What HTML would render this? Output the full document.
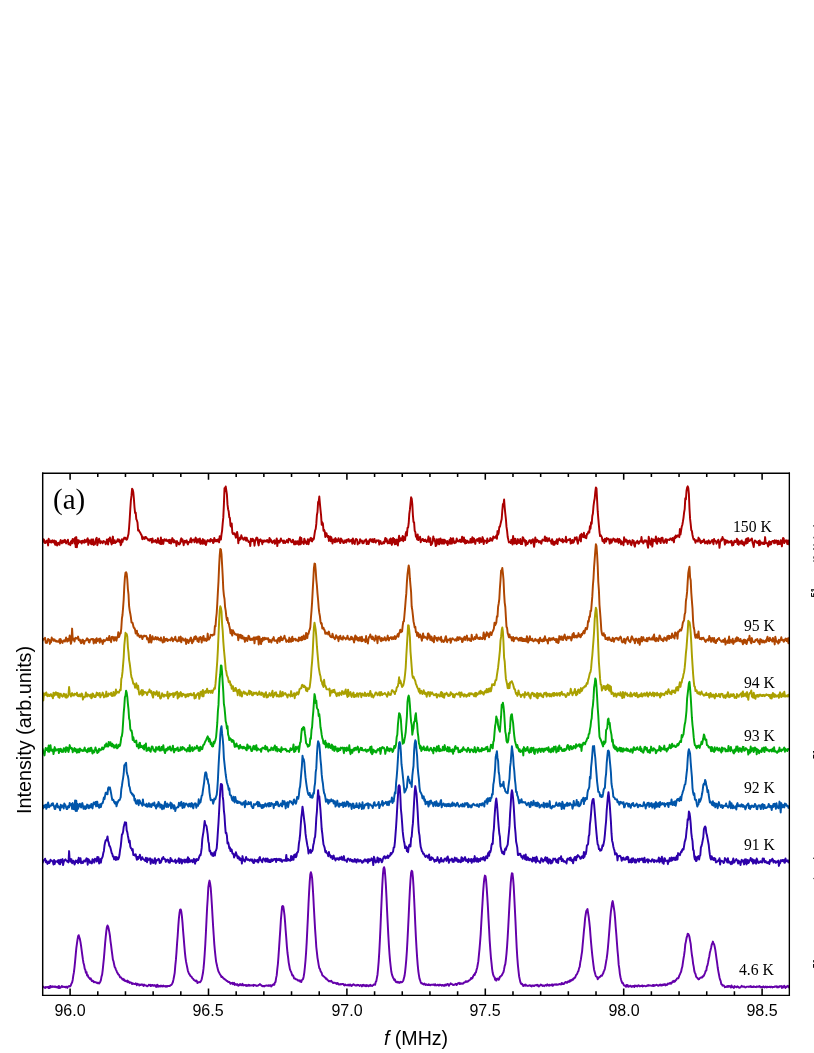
<!DOCTYPE html>
<html><head><meta charset="utf-8"><title>NMR spectra</title>
<style>
html,body{margin:0;padding:0;background:#fff;}
body{width:814px;height:1053px;position:relative;overflow:hidden;font-family:"Liberation Sans",sans-serif;color:#000;}
svg{position:absolute;left:0;top:0;will-change:transform;}
.xt{position:absolute;top:1002.1px;width:60px;text-align:center;font-size:16px;line-height:18px;will-change:transform;}
.tl{position:absolute;font-family:"Liberation Serif",serif;font-size:15.7px;line-height:18px;white-space:nowrap;will-change:transform;}
.pa{position:absolute;left:53.3px;top:483.4px;font-family:"Liberation Serif",serif;font-size:29px;line-height:32px;will-change:transform;}
.xl{position:absolute;left:316px;width:200px;text-align:center;top:1027px;font-size:19.6px;line-height:22px;will-change:transform;}
.yl{position:absolute;left:-76px;top:718.5px;width:200px;height:22px;text-align:center;font-size:19.8px;line-height:22px;will-change:transform;
 transform:rotate(-90deg);transform-origin:50% 50%;white-space:nowrap;}
</style></head><body>
<svg width="814" height="1053" viewBox="0 0 814 1053">
<defs><clipPath id="pc"><rect x="42.7" y="473.2" width="746.9" height="521.8"/></clipPath></defs>
<g clip-path="url(#pc)" fill="none" stroke-width="1.95" stroke-linejoin="round" stroke-linecap="round">
<path stroke="#aa0000" d="M42.7,541.8 L43.3,539.2 L43.9,539.5 L44.5,542.9 L45.1,542.4 L45.7,542.9 L46.3,540.8 L46.9,542.0 L47.5,540.4 L48.1,545.5 L48.7,538.8 L49.3,542.1 L49.9,540.5 L50.5,542.1 L51.1,542.6 L51.7,541.0 L52.3,540.3 L52.9,542.3 L53.5,542.2 L54.1,540.5 L54.7,543.6 L55.3,544.8 L55.9,541.1 L56.5,543.2 L57.1,545.6 L57.7,543.4 L58.3,542.8 L58.9,544.2 L59.5,544.8 L60.1,541.8 L60.7,540.1 L61.3,542.3 L61.9,543.3 L62.5,541.1 L63.1,540.5 L63.7,542.4 L64.3,540.8 L64.9,539.8 L65.5,542.3 L66.1,543.4 L66.7,541.2 L67.3,541.4 L67.9,539.7 L68.5,544.3 L69.1,543.1 L69.7,543.5 L70.3,545.2 L70.9,541.6 L71.5,540.8 L72.1,543.4 L72.7,538.9 L73.3,541.3 L73.9,539.3 L74.5,543.4 L75.1,537.8 L75.7,547.1 L76.3,537.1 L76.9,547.2 L77.5,540.2 L78.1,543.6 L78.7,540.3 L79.3,541.4 L79.9,542.3 L80.5,542.1 L81.1,541.1 L81.7,543.6 L82.3,540.7 L82.9,542.0 L83.5,540.9 L84.1,542.8 L84.7,539.7 L85.3,540.7 L85.9,542.2 L86.5,540.6 L87.1,539.4 L87.7,538.3 L88.3,544.9 L88.9,540.1 L89.5,540.9 L90.1,542.0 L90.7,543.8 L91.3,539.4 L91.9,544.3 L92.5,540.7 L93.1,539.3 L93.7,544.9 L94.3,542.4 L94.9,544.3 L95.5,541.3 L96.1,538.8 L96.7,537.9 L97.3,545.2 L97.9,542.9 L98.5,540.4 L99.1,538.7 L99.7,540.9 L100.3,543.2 L100.9,541.2 L101.5,541.8 L102.1,542.1 L102.7,543.2 L103.3,541.0 L103.9,541.1 L104.5,541.9 L105.1,542.1 L105.7,544.2 L106.3,542.6 L106.9,539.4 L107.5,542.1 L108.1,544.5 L108.7,539.1 L109.3,540.6 L109.9,537.5 L110.5,541.5 L111.1,542.5 L111.7,544.4 L112.3,539.0 L112.9,536.6 L113.5,543.1 L114.1,542.8 L114.7,540.3 L115.3,543.1 L115.9,542.0 L116.5,542.1 L117.1,541.0 L117.7,539.2 L118.3,541.2 L118.9,539.5 L119.5,542.0 L120.1,540.5 L120.7,545.2 L121.3,543.8 L121.9,539.3 L122.5,541.9 L123.1,539.5 L123.7,539.4 L124.3,537.6 L124.9,538.4 L125.5,537.7 L126.1,539.4 L126.7,539.8 L127.3,538.7 L127.9,536.2 L128.5,534.0 L129.1,527.5 L129.7,519.1 L130.3,509.0 L130.9,500.3 L131.5,495.4 L132.1,488.7 L132.7,489.7 L133.3,492.3 L133.9,498.9 L134.5,507.3 L135.1,513.0 L135.7,512.6 L136.3,519.1 L136.9,520.4 L137.5,522.5 L138.1,530.5 L138.7,529.9 L139.3,531.2 L139.9,532.2 L140.5,533.2 L141.1,534.6 L141.7,535.4 L142.3,539.2 L142.9,537.1 L143.5,538.7 L144.1,537.4 L144.7,538.9 L145.3,537.0 L145.9,536.9 L146.5,538.2 L147.1,538.4 L147.7,539.0 L148.3,540.2 L148.9,539.8 L149.5,540.6 L150.1,539.0 L150.7,539.9 L151.3,538.9 L151.9,542.7 L152.5,538.5 L153.1,541.8 L153.7,541.8 L154.3,540.8 L154.9,541.6 L155.5,540.0 L156.1,541.7 L156.7,542.8 L157.3,542.4 L157.9,538.2 L158.5,540.7 L159.1,543.1 L159.7,540.9 L160.3,544.0 L160.9,537.5 L161.5,544.0 L162.1,540.1 L162.7,540.0 L163.3,543.9 L163.9,540.5 L164.5,539.2 L165.1,540.3 L165.7,540.7 L166.3,539.4 L166.9,540.9 L167.5,540.6 L168.1,541.5 L168.7,540.1 L169.3,543.1 L169.9,539.8 L170.5,542.3 L171.1,543.5 L171.7,540.7 L172.3,538.1 L172.9,539.5 L173.5,542.4 L174.1,540.1 L174.7,542.3 L175.3,541.7 L175.9,541.3 L176.5,546.0 L177.1,541.1 L177.7,543.5 L178.3,542.8 L178.9,544.3 L179.5,544.4 L180.1,543.3 L180.7,539.9 L181.3,538.3 L181.9,541.6 L182.5,539.4 L183.1,542.0 L183.7,545.2 L184.3,541.2 L184.9,540.7 L185.5,542.4 L186.1,541.0 L186.7,540.4 L187.3,543.2 L187.9,544.4 L188.5,542.0 L189.1,542.0 L189.7,542.2 L190.3,539.6 L190.9,538.2 L191.5,542.4 L192.1,540.2 L192.7,539.7 L193.3,540.2 L193.9,539.5 L194.5,542.3 L195.1,540.1 L195.7,537.6 L196.3,540.0 L196.9,542.8 L197.5,540.4 L198.1,539.1 L198.7,540.8 L199.3,542.6 L199.9,538.5 L200.5,543.9 L201.1,540.5 L201.7,541.5 L202.3,543.8 L202.9,539.1 L203.5,540.8 L204.1,543.7 L204.7,540.3 L205.3,542.3 L205.9,545.1 L206.5,542.7 L207.1,540.9 L207.7,540.1 L208.3,541.0 L208.9,541.2 L209.5,540.4 L210.1,541.7 L210.7,538.9 L211.3,540.9 L211.9,540.6 L212.5,540.0 L213.1,543.1 L213.7,542.3 L214.3,537.9 L214.9,540.1 L215.5,541.2 L216.1,539.9 L216.7,541.3 L217.3,539.7 L217.9,541.3 L218.5,539.2 L219.1,542.4 L219.7,536.2 L220.3,538.9 L220.9,539.6 L221.5,534.4 L222.1,530.6 L222.7,523.3 L223.3,517.4 L223.9,504.4 L224.5,488.3 L225.1,491.0 L225.7,486.5 L226.3,490.4 L226.9,494.5 L227.5,504.4 L228.1,509.2 L228.7,511.6 L229.3,517.3 L229.9,518.0 L230.5,525.8 L231.1,526.7 L231.7,523.4 L232.3,532.3 L232.9,533.9 L233.5,533.3 L234.1,534.3 L234.7,533.4 L235.3,535.4 L235.9,537.7 L236.5,536.3 L237.1,532.0 L237.7,535.1 L238.3,543.3 L238.9,538.5 L239.5,540.1 L240.1,537.5 L240.7,539.2 L241.3,535.3 L241.9,537.5 L242.5,537.7 L243.1,539.2 L243.7,539.8 L244.3,539.2 L244.9,537.4 L245.5,539.0 L246.1,540.8 L246.7,537.7 L247.3,539.9 L247.9,540.5 L248.5,542.0 L249.1,541.6 L249.7,541.8 L250.3,546.0 L250.9,538.7 L251.5,539.6 L252.1,541.2 L252.7,538.8 L253.3,540.0 L253.9,540.2 L254.5,545.7 L255.1,541.4 L255.7,540.0 L256.3,537.9 L256.9,537.5 L257.5,538.3 L258.1,543.3 L258.7,545.4 L259.3,540.0 L259.9,541.1 L260.5,539.3 L261.1,541.4 L261.7,540.8 L262.3,544.2 L262.9,540.4 L263.5,542.1 L264.1,540.6 L264.7,540.4 L265.3,541.5 L265.9,540.7 L266.5,541.4 L267.1,539.9 L267.7,540.4 L268.3,542.4 L268.9,542.5 L269.5,538.0 L270.1,541.6 L270.7,539.5 L271.3,540.7 L271.9,542.5 L272.5,542.9 L273.1,541.2 L273.7,541.0 L274.3,540.3 L274.9,543.9 L275.5,542.6 L276.1,541.7 L276.7,538.4 L277.3,546.1 L277.9,540.6 L278.5,542.5 L279.1,540.7 L279.7,542.5 L280.3,540.8 L280.9,538.5 L281.5,540.8 L282.1,540.7 L282.7,540.8 L283.3,543.0 L283.9,540.5 L284.5,541.9 L285.1,543.1 L285.7,541.6 L286.3,542.0 L286.9,540.1 L287.5,541.6 L288.1,542.6 L288.7,538.7 L289.3,539.6 L289.9,539.1 L290.5,540.3 L291.1,541.7 L291.7,542.3 L292.3,542.1 L292.9,539.7 L293.5,541.3 L294.1,544.4 L294.7,541.6 L295.3,544.2 L295.9,541.2 L296.5,543.8 L297.1,543.9 L297.7,541.2 L298.3,541.6 L298.9,544.7 L299.5,540.0 L300.1,537.2 L300.7,544.3 L301.3,537.9 L301.9,542.7 L302.5,542.3 L303.1,541.7 L303.7,544.1 L304.3,538.7 L304.9,540.3 L305.5,542.7 L306.1,541.7 L306.7,544.0 L307.3,541.7 L307.9,539.2 L308.5,544.2 L309.1,541.6 L309.7,540.4 L310.3,538.5 L310.9,537.8 L311.5,541.1 L312.1,541.4 L312.7,538.7 L313.3,539.7 L313.9,538.7 L314.5,534.4 L315.1,530.5 L315.7,529.0 L316.3,523.9 L316.9,515.1 L317.5,512.0 L318.1,502.1 L318.7,501.6 L319.3,496.5 L319.9,503.6 L320.5,509.8 L321.1,515.6 L321.7,524.7 L322.3,522.3 L322.9,523.6 L323.5,530.7 L324.1,529.9 L324.7,531.4 L325.3,537.0 L325.9,533.2 L326.5,533.2 L327.1,536.0 L327.7,537.1 L328.3,535.9 L328.9,540.9 L329.5,538.0 L330.1,536.5 L330.7,541.2 L331.3,537.1 L331.9,540.0 L332.5,543.5 L333.1,539.8 L333.7,541.6 L334.3,539.2 L334.9,542.3 L335.5,538.1 L336.1,541.6 L336.7,539.6 L337.3,541.5 L337.9,541.1 L338.5,538.2 L339.1,540.2 L339.7,541.4 L340.3,543.1 L340.9,538.5 L341.5,539.4 L342.1,541.5 L342.7,540.4 L343.3,542.9 L343.9,542.9 L344.5,542.6 L345.1,540.3 L345.7,540.5 L346.3,542.5 L346.9,539.7 L347.5,539.6 L348.1,540.8 L348.7,539.1 L349.3,541.7 L349.9,541.4 L350.5,540.3 L351.1,541.3 L351.7,539.7 L352.3,543.7 L352.9,538.5 L353.5,542.8 L354.1,541.6 L354.7,544.0 L355.3,540.2 L355.9,538.9 L356.5,539.3 L357.1,539.7 L357.7,544.4 L358.3,542.9 L358.9,542.3 L359.5,543.2 L360.1,539.2 L360.7,541.0 L361.3,541.5 L361.9,540.5 L362.5,543.3 L363.1,543.2 L363.7,543.1 L364.3,540.5 L364.9,540.8 L365.5,540.3 L366.1,539.3 L366.7,544.1 L367.3,542.5 L367.9,541.2 L368.5,544.1 L369.1,542.5 L369.7,539.5 L370.3,539.3 L370.9,539.3 L371.5,541.4 L372.1,541.8 L372.7,539.3 L373.3,542.2 L373.9,540.8 L374.5,538.9 L375.1,542.1 L375.7,542.6 L376.3,541.4 L376.9,540.3 L377.5,540.5 L378.1,541.1 L378.7,540.3 L379.3,544.5 L379.9,543.0 L380.5,541.1 L381.1,543.2 L381.7,544.0 L382.3,543.7 L382.9,543.1 L383.5,541.7 L384.1,543.3 L384.7,540.8 L385.3,538.0 L385.9,541.6 L386.5,538.8 L387.1,540.7 L387.7,543.4 L388.3,541.7 L388.9,543.1 L389.5,539.6 L390.1,543.4 L390.7,538.5 L391.3,539.9 L391.9,544.9 L392.5,539.5 L393.1,537.9 L393.7,542.4 L394.3,538.9 L394.9,544.3 L395.5,540.2 L396.1,543.9 L396.7,539.6 L397.3,544.0 L397.9,545.5 L398.5,539.5 L399.1,535.8 L399.7,541.2 L400.3,538.3 L400.9,539.5 L401.5,540.2 L402.1,538.1 L402.7,535.9 L403.3,541.2 L403.9,537.3 L404.5,537.3 L405.1,540.1 L405.7,533.5 L406.3,531.7 L406.9,535.6 L407.5,527.9 L408.1,527.6 L408.7,523.2 L409.3,513.9 L409.9,509.7 L410.5,503.3 L411.1,497.3 L411.7,498.6 L412.3,504.1 L412.9,515.1 L413.5,522.0 L414.1,522.4 L414.7,530.8 L415.3,531.9 L415.9,536.5 L416.5,536.2 L417.1,539.4 L417.7,534.4 L418.3,540.1 L418.9,538.8 L419.5,539.3 L420.1,536.8 L420.7,542.2 L421.3,539.7 L421.9,540.2 L422.5,538.9 L423.1,539.2 L423.7,541.1 L424.3,539.9 L424.9,541.2 L425.5,539.6 L426.1,540.8 L426.7,542.0 L427.3,540.8 L427.9,540.1 L428.5,536.5 L429.1,541.9 L429.7,540.4 L430.3,538.2 L430.9,545.1 L431.5,544.4 L432.1,543.4 L432.7,541.3 L433.3,536.4 L433.9,540.4 L434.5,538.9 L435.1,541.7 L435.7,546.0 L436.3,545.7 L436.9,539.3 L437.5,540.9 L438.1,543.8 L438.7,539.2 L439.3,544.3 L439.9,539.1 L440.5,538.5 L441.1,542.8 L441.7,543.5 L442.3,539.7 L442.9,543.5 L443.5,539.7 L444.1,543.7 L444.7,539.8 L445.3,541.2 L445.9,542.3 L446.5,543.2 L447.1,541.0 L447.7,545.1 L448.3,542.0 L448.9,542.2 L449.5,540.1 L450.1,543.9 L450.7,538.1 L451.3,542.1 L451.9,543.7 L452.5,538.8 L453.1,538.2 L453.7,541.8 L454.3,543.2 L454.9,541.4 L455.5,542.8 L456.1,542.1 L456.7,538.4 L457.3,540.7 L457.9,541.2 L458.5,540.8 L459.1,541.5 L459.7,539.8 L460.3,539.7 L460.9,542.1 L461.5,541.2 L462.1,536.7 L462.7,540.6 L463.3,541.8 L463.9,537.4 L464.5,541.4 L465.1,543.5 L465.7,540.1 L466.3,543.1 L466.9,542.3 L467.5,540.7 L468.1,541.6 L468.7,542.8 L469.3,542.4 L469.9,542.5 L470.5,539.0 L471.1,542.7 L471.7,542.4 L472.3,537.3 L472.9,542.3 L473.5,538.3 L474.1,538.6 L474.7,541.5 L475.3,543.9 L475.9,540.2 L476.5,539.8 L477.1,539.2 L477.7,540.9 L478.3,538.7 L478.9,538.3 L479.5,543.0 L480.1,538.1 L480.7,540.5 L481.3,541.9 L481.9,541.4 L482.5,537.1 L483.1,538.8 L483.7,544.1 L484.3,540.4 L484.9,540.8 L485.5,540.8 L486.1,541.3 L486.7,543.1 L487.3,538.5 L487.9,541.9 L488.5,540.7 L489.1,541.0 L489.7,541.1 L490.3,538.1 L490.9,538.6 L491.5,540.4 L492.1,540.7 L492.7,539.6 L493.3,536.5 L493.9,537.8 L494.5,537.2 L495.1,537.8 L495.7,537.2 L496.3,535.6 L496.9,538.8 L497.5,531.1 L498.1,534.6 L498.7,532.7 L499.3,527.0 L499.9,526.8 L500.5,524.1 L501.1,521.5 L501.7,519.0 L502.3,510.7 L502.9,504.1 L503.5,504.8 L504.1,499.5 L504.7,507.6 L505.3,513.7 L505.9,519.0 L506.5,526.9 L507.1,530.8 L507.7,537.0 L508.3,539.6 L508.9,542.4 L509.5,541.8 L510.1,542.0 L510.7,543.0 L511.3,539.8 L511.9,541.9 L512.5,544.6 L513.1,536.0 L513.7,542.5 L514.3,543.4 L514.9,538.7 L515.5,538.9 L516.1,543.4 L516.7,544.1 L517.3,543.2 L517.9,539.1 L518.5,541.9 L519.1,542.9 L519.7,541.4 L520.3,539.0 L520.9,544.1 L521.5,542.2 L522.1,544.1 L522.7,537.2 L523.3,537.9 L523.9,539.6 L524.5,541.7 L525.1,540.2 L525.7,545.6 L526.3,541.0 L526.9,544.1 L527.5,544.1 L528.1,542.9 L528.7,542.2 L529.3,540.4 L529.9,540.2 L530.5,541.0 L531.1,543.4 L531.7,540.2 L532.3,541.8 L532.9,539.2 L533.5,543.3 L534.1,546.9 L534.7,542.5 L535.3,537.4 L535.9,540.6 L536.5,541.9 L537.1,539.8 L537.7,540.6 L538.3,540.6 L538.9,542.5 L539.5,541.4 L540.1,541.1 L540.7,542.8 L541.3,543.7 L541.9,541.2 L542.5,539.6 L543.1,540.2 L543.7,540.5 L544.3,540.5 L544.9,536.5 L545.5,541.0 L546.1,539.5 L546.7,537.7 L547.3,541.4 L547.9,540.9 L548.5,539.4 L549.1,538.2 L549.7,540.8 L550.3,540.7 L550.9,541.2 L551.5,543.7 L552.1,539.2 L552.7,541.9 L553.3,544.7 L553.9,541.6 L554.5,544.7 L555.1,543.3 L555.7,541.3 L556.3,543.1 L556.9,539.2 L557.5,544.1 L558.1,540.7 L558.7,540.2 L559.3,538.4 L559.9,539.4 L560.5,540.7 L561.1,541.0 L561.7,541.3 L562.3,538.9 L562.9,542.4 L563.5,540.1 L564.1,541.2 L564.7,540.6 L565.3,541.5 L565.9,536.8 L566.5,542.2 L567.1,540.4 L567.7,540.3 L568.3,539.6 L568.9,539.9 L569.5,539.9 L570.1,538.8 L570.7,543.6 L571.3,540.6 L571.9,542.9 L572.5,540.0 L573.1,542.7 L573.7,542.2 L574.3,540.4 L574.9,537.5 L575.5,539.0 L576.1,539.4 L576.7,537.2 L577.3,541.6 L577.9,543.7 L578.5,540.4 L579.1,539.9 L579.7,536.8 L580.3,534.9 L580.9,541.4 L581.5,533.8 L582.1,535.4 L582.7,536.5 L583.3,537.1 L583.9,532.8 L584.5,536.9 L585.1,537.6 L585.7,535.9 L586.3,538.2 L586.9,534.0 L587.5,534.3 L588.1,532.5 L588.7,531.3 L589.3,532.6 L589.9,526.3 L590.5,528.7 L591.1,522.3 L591.7,523.8 L592.3,516.0 L592.9,513.5 L593.5,506.2 L594.1,501.5 L594.7,498.5 L595.3,491.8 L595.9,487.4 L596.5,488.5 L597.1,500.0 L597.7,511.2 L598.3,518.6 L598.9,525.3 L599.5,532.0 L600.1,536.1 L600.7,535.1 L601.3,536.2 L601.9,537.4 L602.5,541.2 L603.1,539.6 L603.7,540.4 L604.3,543.0 L604.9,538.7 L605.5,540.4 L606.1,541.6 L606.7,538.0 L607.3,539.4 L607.9,539.3 L608.5,538.7 L609.1,539.7 L609.7,543.6 L610.3,541.9 L610.9,539.2 L611.5,542.7 L612.1,541.2 L612.7,540.5 L613.3,538.5 L613.9,538.8 L614.5,539.6 L615.1,541.7 L615.7,539.6 L616.3,540.4 L616.9,541.7 L617.5,538.8 L618.1,540.5 L618.7,542.9 L619.3,539.0 L619.9,542.0 L620.5,540.3 L621.1,544.4 L621.7,541.5 L622.3,543.3 L622.9,543.4 L623.5,545.2 L624.1,537.3 L624.7,541.8 L625.3,541.0 L625.9,539.4 L626.5,541.8 L627.1,540.5 L627.7,544.2 L628.3,541.1 L628.9,542.3 L629.5,540.5 L630.1,541.2 L630.7,544.2 L631.3,545.1 L631.9,543.5 L632.5,540.1 L633.1,540.7 L633.7,540.7 L634.3,545.4 L634.9,546.7 L635.5,542.7 L636.1,542.1 L636.7,542.7 L637.3,540.8 L637.9,541.8 L638.5,543.8 L639.1,543.2 L639.7,541.2 L640.3,541.3 L640.9,541.6 L641.5,537.0 L642.1,541.9 L642.7,541.2 L643.3,543.4 L643.9,542.1 L644.5,540.4 L645.1,540.3 L645.7,541.7 L646.3,540.6 L646.9,541.3 L647.5,545.0 L648.1,547.7 L648.7,536.8 L649.3,539.7 L649.9,541.4 L650.5,544.7 L651.1,543.7 L651.7,538.6 L652.3,546.6 L652.9,541.8 L653.5,539.5 L654.1,540.9 L654.7,539.7 L655.3,541.4 L655.9,536.4 L656.5,543.1 L657.1,543.7 L657.7,540.5 L658.3,538.2 L658.9,541.0 L659.5,538.9 L660.1,541.9 L660.7,543.1 L661.3,538.1 L661.9,537.7 L662.5,537.7 L663.1,541.5 L663.7,542.8 L664.3,542.8 L664.9,540.9 L665.5,539.2 L666.1,539.3 L666.7,543.0 L667.3,539.7 L667.9,540.0 L668.5,539.7 L669.1,539.8 L669.7,540.0 L670.3,538.4 L670.9,539.1 L671.5,538.7 L672.1,540.3 L672.7,538.0 L673.3,538.8 L673.9,542.4 L674.5,537.1 L675.1,538.2 L675.7,535.5 L676.3,537.3 L676.9,536.7 L677.5,535.5 L678.1,535.3 L678.7,535.5 L679.3,537.2 L679.9,529.1 L680.5,534.5 L681.1,530.6 L681.7,526.8 L682.3,525.0 L682.9,521.7 L683.5,517.8 L684.1,512.5 L684.7,509.2 L685.3,498.2 L685.9,499.4 L686.5,491.0 L687.1,487.6 L687.7,486.3 L688.3,488.0 L688.9,494.2 L689.5,508.9 L690.1,518.9 L690.7,524.1 L691.3,530.1 L691.9,531.0 L692.5,535.0 L693.1,537.8 L693.7,539.6 L694.3,539.1 L694.9,540.2 L695.5,542.8 L696.1,540.3 L696.7,540.8 L697.3,541.1 L697.9,541.6 L698.5,537.6 L699.1,539.6 L699.7,539.2 L700.3,542.3 L700.9,543.2 L701.5,541.8 L702.1,540.8 L702.7,542.0 L703.3,541.7 L703.9,539.5 L704.5,540.9 L705.1,543.4 L705.7,542.3 L706.3,542.8 L706.9,541.2 L707.5,543.8 L708.1,541.9 L708.7,540.3 L709.3,541.6 L709.9,543.4 L710.5,542.8 L711.1,541.4 L711.7,540.7 L712.3,540.0 L712.9,542.0 L713.5,544.2 L714.1,538.9 L714.7,541.1 L715.3,540.9 L715.9,541.1 L716.5,543.7 L717.1,542.4 L717.7,541.2 L718.3,539.7 L718.9,541.6 L719.5,547.8 L720.1,542.2 L720.7,541.1 L721.3,539.3 L721.9,540.4 L722.5,536.9 L723.1,539.0 L723.7,539.2 L724.3,540.0 L724.9,544.5 L725.5,540.1 L726.1,540.6 L726.7,542.8 L727.3,540.7 L727.9,541.0 L728.5,542.7 L729.1,542.0 L729.7,542.3 L730.3,541.4 L730.9,542.6 L731.5,540.8 L732.1,545.5 L732.7,542.4 L733.3,545.1 L733.9,542.8 L734.5,540.8 L735.1,541.8 L735.7,542.0 L736.3,541.7 L736.9,538.8 L737.5,544.0 L738.1,540.1 L738.7,544.8 L739.3,542.7 L739.9,541.5 L740.5,543.5 L741.1,541.4 L741.7,540.4 L742.3,544.2 L742.9,542.0 L743.5,542.6 L744.1,545.6 L744.7,542.2 L745.3,543.4 L745.9,539.2 L746.5,543.5 L747.1,538.5 L747.7,542.9 L748.3,538.1 L748.9,540.8 L749.5,541.0 L750.1,540.3 L750.7,540.1 L751.3,539.1 L751.9,538.5 L752.5,542.5 L753.1,544.3 L753.7,547.0 L754.3,542.6 L754.9,540.4 L755.5,541.1 L756.1,541.6 L756.7,542.5 L757.3,543.1 L757.9,542.4 L758.5,541.1 L759.1,545.3 L759.7,540.4 L760.3,544.7 L760.9,542.2 L761.5,543.1 L762.1,542.6 L762.7,543.9 L763.3,544.1 L763.9,542.3 L764.5,544.0 L765.1,537.1 L765.7,542.7 L766.3,543.1 L766.9,542.9 L767.5,544.0 L768.1,546.6 L768.7,542.4 L769.3,541.3 L769.9,544.8 L770.5,541.9 L771.1,544.2 L771.7,542.0 L772.3,541.2 L772.9,540.9 L773.5,541.0 L774.1,543.3 L774.7,540.2 L775.3,542.8 L775.9,541.2 L776.5,540.5 L777.1,542.5 L777.7,544.4 L778.3,540.7 L778.9,544.1 L779.5,543.6 L780.1,544.0 L780.7,540.3 L781.3,542.2 L781.9,546.3 L782.5,540.5 L783.1,537.9 L783.7,538.4 L784.3,543.0 L784.9,541.7 L785.5,540.9 L786.1,540.2 L786.7,541.8 L787.3,544.0 L787.9,540.4 L788.5,540.7 L789.1,544.5"/>
<path stroke="#af4600" d="M42.7,640.6 L43.3,638.8 L43.9,639.3 L44.5,639.4 L45.1,637.8 L45.7,642.7 L46.3,641.7 L46.9,642.9 L47.5,640.8 L48.1,638.9 L48.7,640.6 L49.3,639.7 L49.9,643.9 L50.5,640.4 L51.1,642.2 L51.7,637.5 L52.3,639.1 L52.9,638.9 L53.5,640.7 L54.1,639.5 L54.7,639.5 L55.3,641.2 L55.9,641.5 L56.5,640.8 L57.1,641.7 L57.7,641.6 L58.3,641.1 L58.9,641.9 L59.5,639.3 L60.1,643.4 L60.7,639.1 L61.3,641.7 L61.9,641.5 L62.5,642.9 L63.1,640.8 L63.7,641.0 L64.3,640.2 L64.9,641.5 L65.5,640.4 L66.1,637.4 L66.7,639.9 L67.3,641.6 L67.9,638.9 L68.5,640.8 L69.1,639.5 L69.7,635.5 L70.3,640.2 L70.9,643.9 L71.5,641.2 L72.1,628.6 L72.7,638.5 L73.3,639.8 L73.9,638.8 L74.5,641.5 L75.1,638.4 L75.7,637.7 L76.3,638.6 L76.9,638.5 L77.5,638.6 L78.1,636.6 L78.7,640.2 L79.3,640.5 L79.9,639.5 L80.5,642.1 L81.1,643.2 L81.7,642.0 L82.3,639.8 L82.9,639.7 L83.5,643.2 L84.1,643.8 L84.7,641.0 L85.3,640.8 L85.9,640.6 L86.5,639.3 L87.1,638.3 L87.7,640.0 L88.3,639.4 L88.9,642.4 L89.5,642.5 L90.1,640.0 L90.7,639.3 L91.3,639.1 L91.9,639.4 L92.5,639.0 L93.1,639.0 L93.7,643.4 L94.3,641.6 L94.9,639.6 L95.5,639.3 L96.1,643.0 L96.7,638.3 L97.3,641.1 L97.9,640.7 L98.5,639.8 L99.1,638.9 L99.7,642.7 L100.3,638.5 L100.9,640.1 L101.5,641.5 L102.1,640.6 L102.7,644.0 L103.3,641.2 L103.9,639.8 L104.5,641.3 L105.1,640.6 L105.7,640.2 L106.3,639.9 L106.9,638.1 L107.5,639.9 L108.1,640.3 L108.7,638.8 L109.3,636.0 L109.9,640.2 L110.5,638.6 L111.1,642.2 L111.7,637.0 L112.3,638.1 L112.9,636.8 L113.5,639.1 L114.1,640.7 L114.7,637.2 L115.3,637.2 L115.9,639.8 L116.5,640.6 L117.1,636.9 L117.7,637.6 L118.3,632.2 L118.9,637.1 L119.5,635.8 L120.1,633.3 L120.7,633.4 L121.3,628.3 L121.9,618.7 L122.5,615.0 L123.1,607.5 L123.7,599.3 L124.3,586.4 L124.9,577.7 L125.5,572.7 L126.1,572.2 L126.7,573.8 L127.3,579.7 L127.9,589.1 L128.5,594.5 L129.1,606.2 L129.7,610.6 L130.3,613.7 L130.9,617.3 L131.5,622.4 L132.1,622.4 L132.7,623.2 L133.3,626.1 L133.9,627.9 L134.5,628.1 L135.1,629.9 L135.7,633.5 L136.3,632.7 L136.9,630.8 L137.5,635.6 L138.1,634.0 L138.7,635.3 L139.3,636.6 L139.9,637.2 L140.5,635.6 L141.1,635.5 L141.7,635.8 L142.3,639.1 L142.9,637.3 L143.5,636.4 L144.1,635.6 L144.7,636.2 L145.3,636.1 L145.9,635.8 L146.5,636.4 L147.1,639.4 L147.7,638.0 L148.3,639.5 L148.9,642.5 L149.5,641.4 L150.1,634.9 L150.7,640.6 L151.3,642.6 L151.9,639.8 L152.5,636.2 L153.1,639.0 L153.7,638.3 L154.3,639.5 L154.9,639.2 L155.5,636.9 L156.1,637.8 L156.7,639.4 L157.3,637.7 L157.9,637.4 L158.5,639.7 L159.1,638.9 L159.7,639.0 L160.3,640.6 L160.9,637.5 L161.5,639.8 L162.1,640.6 L162.7,642.5 L163.3,641.8 L163.9,637.0 L164.5,641.7 L165.1,638.9 L165.7,640.3 L166.3,638.8 L166.9,638.7 L167.5,641.1 L168.1,640.3 L168.7,639.6 L169.3,639.6 L169.9,639.9 L170.5,640.4 L171.1,638.7 L171.7,637.6 L172.3,638.9 L172.9,641.2 L173.5,639.2 L174.1,639.8 L174.7,639.1 L175.3,636.7 L175.9,640.3 L176.5,640.0 L177.1,641.5 L177.7,640.4 L178.3,640.9 L178.9,637.2 L179.5,639.4 L180.1,641.0 L180.7,636.6 L181.3,642.3 L181.9,638.5 L182.5,638.2 L183.1,639.0 L183.7,640.4 L184.3,640.2 L184.9,640.6 L185.5,638.6 L186.1,644.0 L186.7,640.8 L187.3,639.7 L187.9,641.0 L188.5,643.1 L189.1,640.3 L189.7,641.2 L190.3,638.5 L190.9,637.5 L191.5,639.8 L192.1,643.3 L192.7,640.2 L193.3,641.5 L193.9,638.6 L194.5,636.8 L195.1,639.2 L195.7,636.2 L196.3,637.1 L196.9,638.5 L197.5,641.2 L198.1,639.3 L198.7,642.0 L199.3,637.6 L199.9,639.1 L200.5,636.9 L201.1,638.7 L201.7,642.6 L202.3,638.0 L202.9,637.4 L203.5,636.0 L204.1,640.6 L204.7,640.4 L205.3,638.6 L205.9,640.4 L206.5,640.9 L207.1,640.2 L207.7,633.6 L208.3,639.1 L208.9,639.6 L209.5,638.4 L210.1,637.4 L210.7,634.8 L211.3,635.0 L211.9,634.9 L212.5,635.6 L213.1,634.6 L213.7,634.8 L214.3,634.6 L214.9,625.9 L215.5,626.4 L216.1,618.3 L216.7,613.1 L217.3,603.1 L217.9,591.7 L218.5,581.2 L219.1,566.6 L219.7,555.6 L220.3,548.9 L220.9,549.4 L221.5,554.1 L222.1,564.7 L222.7,575.7 L223.3,589.1 L223.9,595.3 L224.5,598.8 L225.1,607.2 L225.7,610.7 L226.3,616.3 L226.9,620.2 L227.5,618.0 L228.1,623.0 L228.7,622.8 L229.3,626.0 L229.9,628.7 L230.5,633.2 L231.1,630.0 L231.7,633.8 L232.3,635.6 L232.9,630.2 L233.5,631.7 L234.1,632.4 L234.7,633.9 L235.3,634.4 L235.9,634.0 L236.5,634.8 L237.1,635.3 L237.7,634.4 L238.3,640.2 L238.9,634.6 L239.5,637.5 L240.1,635.1 L240.7,634.7 L241.3,638.4 L241.9,635.7 L242.5,635.9 L243.1,638.7 L243.7,638.5 L244.3,637.5 L244.9,641.8 L245.5,638.8 L246.1,637.8 L246.7,639.0 L247.3,641.1 L247.9,639.0 L248.5,635.8 L249.1,636.2 L249.7,638.8 L250.3,640.1 L250.9,638.8 L251.5,638.8 L252.1,640.0 L252.7,639.5 L253.3,637.9 L253.9,637.4 L254.5,643.3 L255.1,637.4 L255.7,638.9 L256.3,637.2 L256.9,639.2 L257.5,638.5 L258.1,636.4 L258.7,644.5 L259.3,636.6 L259.9,639.0 L260.5,642.6 L261.1,644.1 L261.7,638.9 L262.3,641.3 L262.9,637.7 L263.5,639.1 L264.1,639.8 L264.7,637.8 L265.3,639.2 L265.9,638.3 L266.5,638.2 L267.1,639.1 L267.7,638.3 L268.3,638.3 L268.9,642.1 L269.5,640.2 L270.1,639.9 L270.7,640.4 L271.3,642.5 L271.9,640.7 L272.5,639.1 L273.1,639.4 L273.7,637.1 L274.3,640.8 L274.9,640.5 L275.5,640.8 L276.1,640.3 L276.7,640.8 L277.3,643.1 L277.9,639.2 L278.5,638.1 L279.1,637.8 L279.7,641.7 L280.3,640.1 L280.9,636.6 L281.5,640.0 L282.1,639.2 L282.7,640.1 L283.3,638.0 L283.9,638.1 L284.5,635.7 L285.1,638.9 L285.7,639.0 L286.3,641.9 L286.9,640.5 L287.5,641.0 L288.1,640.3 L288.7,642.0 L289.3,637.6 L289.9,641.5 L290.5,639.2 L291.1,641.8 L291.7,639.0 L292.3,636.7 L292.9,641.0 L293.5,638.9 L294.1,639.6 L294.7,639.0 L295.3,638.7 L295.9,640.5 L296.5,639.6 L297.1,640.3 L297.7,640.7 L298.3,641.3 L298.9,637.4 L299.5,640.3 L300.1,637.7 L300.7,637.8 L301.3,640.4 L301.9,636.7 L302.5,639.9 L303.1,637.2 L303.7,635.5 L304.3,639.1 L304.9,639.2 L305.5,638.9 L306.1,632.9 L306.7,637.1 L307.3,638.0 L307.9,633.4 L308.5,633.7 L309.1,631.2 L309.7,629.7 L310.3,627.2 L310.9,618.3 L311.5,610.8 L312.1,602.1 L312.7,590.6 L313.3,580.0 L313.9,568.3 L314.5,563.6 L315.1,563.9 L315.7,570.4 L316.3,579.5 L316.9,585.5 L317.5,593.6 L318.1,600.0 L318.7,607.8 L319.3,612.9 L319.9,616.1 L320.5,621.4 L321.1,623.8 L321.7,623.4 L322.3,628.5 L322.9,627.9 L323.5,627.7 L324.1,629.7 L324.7,630.3 L325.3,633.8 L325.9,632.7 L326.5,633.6 L327.1,632.6 L327.7,633.4 L328.3,634.5 L328.9,631.6 L329.5,634.3 L330.1,636.1 L330.7,636.9 L331.3,636.2 L331.9,637.3 L332.5,633.7 L333.1,635.8 L333.7,637.5 L334.3,638.2 L334.9,639.1 L335.5,637.9 L336.1,635.2 L336.7,636.2 L337.3,637.9 L337.9,637.6 L338.5,641.2 L339.1,636.7 L339.7,638.5 L340.3,635.8 L340.9,638.6 L341.5,639.2 L342.1,638.1 L342.7,639.6 L343.3,636.2 L343.9,638.1 L344.5,638.0 L345.1,638.1 L345.7,639.4 L346.3,638.0 L346.9,638.5 L347.5,635.8 L348.1,638.8 L348.7,638.3 L349.3,639.8 L349.9,639.6 L350.5,639.5 L351.1,636.8 L351.7,638.9 L352.3,637.4 L352.9,639.5 L353.5,639.7 L354.1,642.5 L354.7,637.7 L355.3,635.5 L355.9,639.5 L356.5,636.6 L357.1,637.7 L357.7,640.4 L358.3,637.9 L358.9,640.8 L359.5,639.7 L360.1,637.1 L360.7,638.9 L361.3,641.3 L361.9,636.8 L362.5,641.1 L363.1,639.5 L363.7,639.8 L364.3,639.5 L364.9,640.7 L365.5,642.1 L366.1,636.0 L366.7,640.9 L367.3,640.8 L367.9,643.5 L368.5,639.1 L369.1,637.0 L369.7,636.8 L370.3,634.4 L370.9,636.6 L371.5,638.5 L372.1,639.1 L372.7,636.6 L373.3,639.2 L373.9,638.8 L374.5,640.8 L375.1,638.9 L375.7,635.6 L376.3,639.1 L376.9,638.3 L377.5,643.2 L378.1,636.6 L378.7,638.3 L379.3,636.4 L379.9,638.4 L380.5,640.3 L381.1,641.2 L381.7,637.9 L382.3,638.8 L382.9,640.4 L383.5,638.8 L384.1,639.7 L384.7,637.3 L385.3,639.2 L385.9,640.6 L386.5,638.5 L387.1,639.3 L387.7,635.6 L388.3,639.0 L388.9,640.4 L389.5,638.1 L390.1,638.3 L390.7,637.3 L391.3,637.2 L391.9,639.3 L392.5,637.4 L393.1,637.3 L393.7,639.0 L394.3,637.7 L394.9,636.1 L395.5,639.0 L396.1,637.8 L396.7,636.4 L397.3,635.4 L397.9,633.9 L398.5,636.7 L399.1,633.3 L399.7,632.1 L400.3,629.7 L400.9,632.2 L401.5,631.8 L402.1,631.4 L402.7,625.6 L403.3,621.6 L403.9,621.3 L404.5,614.5 L405.1,607.6 L405.7,599.9 L406.3,593.4 L406.9,582.1 L407.5,574.3 L408.1,569.5 L408.7,565.5 L409.3,568.9 L409.9,578.7 L410.5,585.5 L411.1,592.2 L411.7,606.7 L412.3,610.0 L412.9,615.3 L413.5,621.2 L414.1,624.1 L414.7,627.6 L415.3,626.7 L415.9,632.1 L416.5,631.9 L417.1,635.9 L417.7,632.7 L418.3,633.2 L418.9,637.4 L419.5,636.4 L420.1,634.5 L420.7,636.5 L421.3,638.1 L421.9,640.7 L422.5,636.0 L423.1,633.4 L423.7,637.8 L424.3,636.5 L424.9,636.7 L425.5,637.7 L426.1,637.5 L426.7,637.7 L427.3,639.5 L427.9,633.7 L428.5,633.4 L429.1,637.8 L429.7,635.3 L430.3,639.9 L430.9,638.9 L431.5,636.6 L432.1,640.7 L432.7,641.0 L433.3,638.2 L433.9,642.3 L434.5,635.9 L435.1,637.6 L435.7,638.6 L436.3,637.8 L436.9,640.6 L437.5,640.7 L438.1,637.7 L438.7,637.5 L439.3,638.9 L439.9,639.3 L440.5,640.1 L441.1,636.8 L441.7,641.8 L442.3,640.8 L442.9,640.2 L443.5,642.0 L444.1,641.6 L444.7,641.1 L445.3,637.6 L445.9,636.2 L446.5,638.8 L447.1,642.2 L447.7,640.4 L448.3,639.6 L448.9,639.9 L449.5,640.1 L450.1,638.5 L450.7,642.8 L451.3,640.4 L451.9,639.0 L452.5,638.2 L453.1,638.9 L453.7,639.4 L454.3,639.6 L454.9,640.6 L455.5,639.2 L456.1,639.7 L456.7,640.6 L457.3,637.2 L457.9,637.3 L458.5,640.0 L459.1,638.2 L459.7,637.2 L460.3,638.8 L460.9,639.0 L461.5,638.4 L462.1,642.1 L462.7,641.7 L463.3,638.3 L463.9,638.7 L464.5,636.8 L465.1,640.0 L465.7,637.2 L466.3,637.2 L466.9,635.6 L467.5,640.4 L468.1,639.6 L468.7,638.5 L469.3,638.4 L469.9,640.6 L470.5,639.8 L471.1,641.1 L471.7,634.7 L472.3,638.8 L472.9,638.7 L473.5,639.7 L474.1,638.5 L474.7,637.1 L475.3,639.0 L475.9,638.4 L476.5,634.5 L477.1,636.6 L477.7,637.7 L478.3,638.8 L478.9,638.0 L479.5,639.1 L480.1,637.2 L480.7,638.8 L481.3,638.7 L481.9,638.0 L482.5,639.1 L483.1,636.7 L483.7,632.5 L484.3,637.8 L484.9,639.4 L485.5,634.6 L486.1,636.2 L486.7,632.3 L487.3,634.8 L487.9,633.5 L488.5,636.2 L489.1,637.2 L489.7,634.3 L490.3,632.3 L490.9,634.4 L491.5,635.0 L492.1,632.5 L492.7,631.4 L493.3,630.2 L493.9,628.5 L494.5,622.8 L495.1,625.3 L495.7,624.1 L496.3,622.7 L496.9,616.3 L497.5,616.7 L498.1,606.8 L498.7,603.5 L499.3,599.2 L499.9,588.2 L500.5,580.4 L501.1,570.6 L501.7,570.9 L502.3,567.9 L502.9,573.0 L503.5,579.6 L504.1,593.1 L504.7,602.6 L505.3,607.0 L505.9,617.2 L506.5,626.8 L507.1,628.0 L507.7,633.1 L508.3,635.0 L508.9,637.3 L509.5,634.4 L510.1,637.6 L510.7,636.8 L511.3,637.4 L511.9,640.5 L512.5,639.4 L513.1,636.9 L513.7,641.2 L514.3,638.2 L514.9,638.9 L515.5,637.8 L516.1,637.8 L516.7,637.6 L517.3,639.1 L517.9,638.8 L518.5,640.5 L519.1,640.3 L519.7,637.9 L520.3,640.5 L520.9,637.7 L521.5,637.8 L522.1,641.0 L522.7,638.6 L523.3,641.1 L523.9,639.1 L524.5,641.1 L525.1,639.1 L525.7,639.4 L526.3,641.6 L526.9,636.2 L527.5,638.1 L528.1,642.6 L528.7,639.2 L529.3,640.6 L529.9,636.2 L530.5,639.9 L531.1,639.1 L531.7,640.2 L532.3,638.7 L532.9,640.8 L533.5,641.4 L534.1,640.7 L534.7,640.6 L535.3,638.8 L535.9,639.7 L536.5,640.6 L537.1,640.5 L537.7,641.4 L538.3,639.6 L538.9,643.4 L539.5,640.2 L540.1,637.7 L540.7,640.4 L541.3,640.9 L541.9,639.7 L542.5,641.4 L543.1,641.1 L543.7,638.6 L544.3,640.9 L544.9,636.3 L545.5,638.8 L546.1,639.9 L546.7,640.8 L547.3,640.1 L547.9,643.6 L548.5,639.2 L549.1,638.1 L549.7,638.6 L550.3,640.4 L550.9,638.5 L551.5,638.5 L552.1,639.8 L552.7,638.9 L553.3,637.7 L553.9,638.7 L554.5,640.1 L555.1,639.4 L555.7,639.1 L556.3,642.2 L556.9,639.1 L557.5,639.5 L558.1,643.1 L558.7,642.2 L559.3,636.1 L559.9,639.0 L560.5,636.8 L561.1,639.7 L561.7,636.4 L562.3,638.0 L562.9,640.1 L563.5,638.4 L564.1,636.1 L564.7,634.6 L565.3,637.8 L565.9,639.4 L566.5,640.1 L567.1,637.3 L567.7,636.5 L568.3,638.1 L568.9,638.4 L569.5,636.7 L570.1,637.2 L570.7,637.2 L571.3,640.5 L571.9,638.3 L572.5,634.3 L573.1,637.4 L573.7,633.0 L574.3,636.4 L574.9,637.4 L575.5,636.3 L576.1,635.5 L576.7,637.6 L577.3,635.7 L577.9,636.6 L578.5,633.1 L579.1,636.1 L579.7,634.8 L580.3,637.3 L580.9,636.7 L581.5,634.0 L582.1,635.0 L582.7,633.4 L583.3,631.9 L583.9,630.7 L584.5,633.4 L585.1,630.5 L585.7,628.0 L586.3,629.3 L586.9,629.2 L587.5,626.6 L588.1,620.9 L588.7,621.7 L589.3,616.6 L589.9,616.9 L590.5,610.8 L591.1,611.0 L591.7,603.6 L592.3,596.4 L592.9,585.5 L593.5,578.3 L594.1,566.8 L594.7,559.1 L595.3,550.9 L595.9,544.2 L596.5,546.0 L597.1,554.2 L597.7,565.9 L598.3,582.0 L598.9,590.1 L599.5,605.0 L600.1,612.3 L600.7,620.3 L601.3,629.8 L601.9,633.6 L602.5,635.3 L603.1,634.2 L603.7,633.2 L604.3,636.3 L604.9,635.0 L605.5,639.0 L606.1,638.3 L606.7,639.1 L607.3,637.7 L607.9,640.0 L608.5,638.4 L609.1,637.3 L609.7,639.3 L610.3,640.2 L610.9,639.6 L611.5,641.0 L612.1,640.8 L612.7,637.7 L613.3,638.6 L613.9,641.8 L614.5,639.8 L615.1,638.6 L615.7,638.0 L616.3,638.3 L616.9,637.8 L617.5,639.6 L618.1,639.6 L618.7,640.1 L619.3,637.7 L619.9,638.2 L620.5,636.6 L621.1,637.8 L621.7,641.2 L622.3,642.4 L622.9,642.2 L623.5,641.4 L624.1,638.7 L624.7,642.3 L625.3,643.4 L625.9,640.2 L626.5,638.5 L627.1,638.5 L627.7,637.0 L628.3,640.0 L628.9,640.9 L629.5,640.5 L630.1,642.3 L630.7,641.1 L631.3,637.7 L631.9,636.3 L632.5,637.7 L633.1,639.5 L633.7,640.4 L634.3,639.5 L634.9,643.3 L635.5,639.0 L636.1,638.6 L636.7,640.2 L637.3,639.9 L637.9,642.9 L638.5,638.6 L639.1,638.6 L639.7,644.8 L640.3,641.0 L640.9,639.3 L641.5,637.0 L642.1,641.4 L642.7,640.0 L643.3,637.3 L643.9,639.1 L644.5,640.3 L645.1,640.6 L645.7,639.8 L646.3,641.2 L646.9,638.0 L647.5,641.3 L648.1,638.8 L648.7,638.1 L649.3,637.6 L649.9,639.5 L650.5,639.6 L651.1,639.0 L651.7,639.4 L652.3,637.6 L652.9,639.6 L653.5,636.0 L654.1,634.5 L654.7,640.5 L655.3,638.6 L655.9,641.3 L656.5,637.9 L657.1,638.5 L657.7,639.6 L658.3,641.0 L658.9,639.0 L659.5,635.5 L660.1,636.2 L660.7,638.3 L661.3,640.0 L661.9,638.9 L662.5,640.2 L663.1,641.1 L663.7,640.3 L664.3,637.5 L664.9,638.0 L665.5,638.1 L666.1,640.3 L666.7,640.7 L667.3,636.3 L667.9,638.6 L668.5,635.8 L669.1,639.1 L669.7,635.9 L670.3,637.0 L670.9,638.0 L671.5,637.8 L672.1,633.5 L672.7,635.0 L673.3,636.9 L673.9,635.9 L674.5,638.6 L675.1,632.5 L675.7,632.7 L676.3,635.5 L676.9,633.5 L677.5,638.7 L678.1,631.6 L678.7,631.8 L679.3,631.4 L679.9,629.6 L680.5,629.5 L681.1,630.6 L681.7,628.8 L682.3,626.2 L682.9,622.3 L683.5,621.5 L684.1,619.7 L684.7,614.2 L685.3,612.5 L685.9,601.0 L686.5,597.4 L687.1,591.9 L687.7,581.6 L688.3,572.8 L688.9,569.4 L689.5,566.8 L690.1,577.5 L690.7,580.2 L691.3,592.7 L691.9,600.9 L692.5,608.4 L693.1,621.1 L693.7,627.3 L694.3,629.8 L694.9,635.1 L695.5,637.7 L696.1,635.4 L696.7,634.4 L697.3,637.9 L697.9,636.6 L698.5,631.4 L699.1,637.5 L699.7,638.9 L700.3,638.9 L700.9,638.0 L701.5,639.4 L702.1,637.8 L702.7,638.8 L703.3,637.7 L703.9,639.1 L704.5,639.6 L705.1,641.2 L705.7,642.0 L706.3,640.2 L706.9,640.4 L707.5,639.3 L708.1,640.0 L708.7,640.6 L709.3,635.9 L709.9,639.4 L710.5,637.9 L711.1,641.8 L711.7,638.3 L712.3,638.0 L712.9,639.3 L713.5,641.7 L714.1,637.9 L714.7,641.4 L715.3,642.9 L715.9,643.1 L716.5,640.1 L717.1,641.1 L717.7,638.9 L718.3,639.1 L718.9,637.9 L719.5,639.7 L720.1,640.1 L720.7,640.3 L721.3,641.7 L721.9,641.8 L722.5,641.6 L723.1,640.0 L723.7,641.9 L724.3,640.6 L724.9,638.5 L725.5,644.6 L726.1,642.0 L726.7,642.2 L727.3,640.5 L727.9,643.1 L728.5,641.7 L729.1,636.5 L729.7,642.9 L730.3,640.7 L730.9,640.1 L731.5,641.0 L732.1,642.6 L732.7,638.8 L733.3,643.9 L733.9,642.3 L734.5,641.0 L735.1,641.7 L735.7,638.5 L736.3,641.2 L736.9,637.3 L737.5,640.7 L738.1,637.9 L738.7,639.9 L739.3,641.1 L739.9,641.2 L740.5,638.9 L741.1,641.6 L741.7,640.8 L742.3,642.1 L742.9,644.3 L743.5,639.8 L744.1,639.6 L744.7,642.8 L745.3,639.9 L745.9,641.2 L746.5,644.1 L747.1,642.4 L747.7,639.6 L748.3,638.9 L748.9,640.0 L749.5,635.8 L750.1,640.1 L750.7,642.0 L751.3,643.3 L751.9,638.1 L752.5,641.5 L753.1,641.4 L753.7,642.1 L754.3,642.1 L754.9,641.3 L755.5,639.9 L756.1,639.7 L756.7,640.1 L757.3,639.0 L757.9,641.5 L758.5,642.5 L759.1,640.7 L759.7,644.3 L760.3,639.1 L760.9,639.7 L761.5,639.7 L762.1,642.5 L762.7,641.5 L763.3,640.6 L763.9,642.4 L764.5,642.6 L765.1,641.0 L765.7,640.4 L766.3,641.8 L766.9,638.8 L767.5,636.7 L768.1,639.6 L768.7,641.0 L769.3,641.2 L769.9,637.8 L770.5,640.1 L771.1,639.6 L771.7,640.2 L772.3,641.6 L772.9,638.0 L773.5,641.1 L774.1,640.4 L774.7,644.4 L775.3,636.8 L775.9,639.3 L776.5,640.8 L777.1,642.0 L777.7,641.7 L778.3,643.6 L778.9,639.8 L779.5,642.2 L780.1,639.9 L780.7,639.9 L781.3,637.3 L781.9,640.3 L782.5,640.1 L783.1,639.8 L783.7,641.7 L784.3,641.1 L784.9,640.1 L785.5,638.6 L786.1,639.3 L786.7,641.1 L787.3,638.5 L787.9,641.3 L788.5,643.3 L789.1,637.8"/>
<path stroke="#aaa000" d="M42.7,692.5 L43.3,700.4 L43.9,693.9 L44.5,695.3 L45.1,693.3 L45.7,694.8 L46.3,692.5 L46.9,695.4 L47.5,696.3 L48.1,694.5 L48.7,694.7 L49.3,696.0 L49.9,695.8 L50.5,694.3 L51.1,694.3 L51.7,696.2 L52.3,696.0 L52.9,698.3 L53.5,692.7 L54.1,695.8 L54.7,693.3 L55.3,694.8 L55.9,692.3 L56.5,693.0 L57.1,694.9 L57.7,693.0 L58.3,696.9 L58.9,693.4 L59.5,697.8 L60.1,694.9 L60.7,693.7 L61.3,695.1 L61.9,696.0 L62.5,696.7 L63.1,696.0 L63.7,693.7 L64.3,694.0 L64.9,695.8 L65.5,697.4 L66.1,694.3 L66.7,697.7 L67.3,696.2 L67.9,696.6 L68.5,694.2 L69.1,687.0 L69.7,692.7 L70.3,695.0 L70.9,696.5 L71.5,694.5 L72.1,693.1 L72.7,695.4 L73.3,694.4 L73.9,695.6 L74.5,693.7 L75.1,694.3 L75.7,694.0 L76.3,694.8 L76.9,692.7 L77.5,695.9 L78.1,695.9 L78.7,696.3 L79.3,694.4 L79.9,696.3 L80.5,696.4 L81.1,694.2 L81.7,693.5 L82.3,694.4 L82.9,699.6 L83.5,696.9 L84.1,697.0 L84.7,697.3 L85.3,696.0 L85.9,692.4 L86.5,695.8 L87.1,696.5 L87.7,694.2 L88.3,695.2 L88.9,695.1 L89.5,696.4 L90.1,695.3 L90.7,694.6 L91.3,698.3 L91.9,697.8 L92.5,693.5 L93.1,693.9 L93.7,696.1 L94.3,696.9 L94.9,695.5 L95.5,697.1 L96.1,695.7 L96.7,692.6 L97.3,695.0 L97.9,693.3 L98.5,695.5 L99.1,694.6 L99.7,692.9 L100.3,697.3 L100.9,695.7 L101.5,695.3 L102.1,694.6 L102.7,692.6 L103.3,693.9 L103.9,697.4 L104.5,695.4 L105.1,696.4 L105.7,696.4 L106.3,691.6 L106.9,696.6 L107.5,694.4 L108.1,695.9 L108.7,693.4 L109.3,694.1 L109.9,694.4 L110.5,694.7 L111.1,692.7 L111.7,695.9 L112.3,695.5 L112.9,696.0 L113.5,692.0 L114.1,694.5 L114.7,695.5 L115.3,694.4 L115.9,689.5 L116.5,693.5 L117.1,691.7 L117.7,691.9 L118.3,692.2 L118.9,692.6 L119.5,691.0 L120.1,689.5 L120.7,690.1 L121.3,679.0 L121.9,676.9 L122.5,671.9 L123.1,664.7 L123.7,657.0 L124.3,645.3 L124.9,639.3 L125.5,632.8 L126.1,634.4 L126.7,634.0 L127.3,636.7 L127.9,647.1 L128.5,652.3 L129.1,659.8 L129.7,663.5 L130.3,668.1 L130.9,673.4 L131.5,677.4 L132.1,678.5 L132.7,681.0 L133.3,683.7 L133.9,683.4 L134.5,684.6 L135.1,687.7 L135.7,687.4 L136.3,683.3 L136.9,687.3 L137.5,689.0 L138.1,685.6 L138.7,690.8 L139.3,694.5 L139.9,693.9 L140.5,693.6 L141.1,691.0 L141.7,690.1 L142.3,695.4 L142.9,690.3 L143.5,694.3 L144.1,692.1 L144.7,691.9 L145.3,692.1 L145.9,692.9 L146.5,692.8 L147.1,695.0 L147.7,692.9 L148.3,691.8 L148.9,692.0 L149.5,689.4 L150.1,691.9 L150.7,692.6 L151.3,691.1 L151.9,693.5 L152.5,696.0 L153.1,697.6 L153.7,692.0 L154.3,693.2 L154.9,692.8 L155.5,694.7 L156.1,693.7 L156.7,691.3 L157.3,693.8 L157.9,696.1 L158.5,695.1 L159.1,692.2 L159.7,696.2 L160.3,698.6 L160.9,698.2 L161.5,696.7 L162.1,693.3 L162.7,694.4 L163.3,695.8 L163.9,696.7 L164.5,694.8 L165.1,694.9 L165.7,695.6 L166.3,695.1 L166.9,695.9 L167.5,691.8 L168.1,698.5 L168.7,694.5 L169.3,696.4 L169.9,693.6 L170.5,695.2 L171.1,694.2 L171.7,694.0 L172.3,694.5 L172.9,693.2 L173.5,697.1 L174.1,693.3 L174.7,695.2 L175.3,694.2 L175.9,692.4 L176.5,693.1 L177.1,691.7 L177.7,698.5 L178.3,696.4 L178.9,693.3 L179.5,696.7 L180.1,695.2 L180.7,692.1 L181.3,693.5 L181.9,696.4 L182.5,694.2 L183.1,693.8 L183.7,694.8 L184.3,695.0 L184.9,694.6 L185.5,697.3 L186.1,694.7 L186.7,696.4 L187.3,694.2 L187.9,694.2 L188.5,696.3 L189.1,693.9 L189.7,694.3 L190.3,694.9 L190.9,693.6 L191.5,695.3 L192.1,695.2 L192.7,694.6 L193.3,694.8 L193.9,692.9 L194.5,698.5 L195.1,695.2 L195.7,697.9 L196.3,695.5 L196.9,694.2 L197.5,694.6 L198.1,693.0 L198.7,694.0 L199.3,698.8 L199.9,696.2 L200.5,691.8 L201.1,691.6 L201.7,693.8 L202.3,696.2 L202.9,689.9 L203.5,696.3 L204.1,692.0 L204.7,692.1 L205.3,691.1 L205.9,692.9 L206.5,691.3 L207.1,688.7 L207.7,691.3 L208.3,692.9 L208.9,690.9 L209.5,691.0 L210.1,691.6 L210.7,692.8 L211.3,690.6 L211.9,691.6 L212.5,692.9 L213.1,690.2 L213.7,689.7 L214.3,688.0 L214.9,688.8 L215.5,683.9 L216.1,676.9 L216.7,669.0 L217.3,660.5 L217.9,649.4 L218.5,635.7 L219.1,622.4 L219.7,610.5 L220.3,606.3 L220.9,607.8 L221.5,611.4 L222.1,624.0 L222.7,630.9 L223.3,641.4 L223.9,649.3 L224.5,655.6 L225.1,662.2 L225.7,669.4 L226.3,671.5 L226.9,675.4 L227.5,676.7 L228.1,678.3 L228.7,682.2 L229.3,681.0 L229.9,681.4 L230.5,685.0 L231.1,684.4 L231.7,688.7 L232.3,688.0 L232.9,686.2 L233.5,691.1 L234.1,689.6 L234.7,690.7 L235.3,687.9 L235.9,688.2 L236.5,691.4 L237.1,690.5 L237.7,695.2 L238.3,689.9 L238.9,690.9 L239.5,689.6 L240.1,695.7 L240.7,691.5 L241.3,692.8 L241.9,696.6 L242.5,693.6 L243.1,692.8 L243.7,691.5 L244.3,692.6 L244.9,693.8 L245.5,692.4 L246.1,693.4 L246.7,694.3 L247.3,695.0 L247.9,693.2 L248.5,693.3 L249.1,690.6 L249.7,694.4 L250.3,691.1 L250.9,693.2 L251.5,691.9 L252.1,695.3 L252.7,695.3 L253.3,694.5 L253.9,692.6 L254.5,693.8 L255.1,692.9 L255.7,693.6 L256.3,692.5 L256.9,693.9 L257.5,695.1 L258.1,693.4 L258.7,694.1 L259.3,691.5 L259.9,694.6 L260.5,694.2 L261.1,694.9 L261.7,692.6 L262.3,693.0 L262.9,693.4 L263.5,696.5 L264.1,696.9 L264.7,694.1 L265.3,693.4 L265.9,692.2 L266.5,697.4 L267.1,694.9 L267.7,697.3 L268.3,696.1 L268.9,695.0 L269.5,693.1 L270.1,695.5 L270.7,695.8 L271.3,695.2 L271.9,692.7 L272.5,690.8 L273.1,697.2 L273.7,695.1 L274.3,695.4 L274.9,692.8 L275.5,694.0 L276.1,692.3 L276.7,696.3 L277.3,694.7 L277.9,695.5 L278.5,696.5 L279.1,695.0 L279.7,696.6 L280.3,691.3 L280.9,694.1 L281.5,696.4 L282.1,695.7 L282.7,692.0 L283.3,695.5 L283.9,693.6 L284.5,693.8 L285.1,693.0 L285.7,693.7 L286.3,695.0 L286.9,695.6 L287.5,697.5 L288.1,694.7 L288.7,694.4 L289.3,695.2 L289.9,694.8 L290.5,696.5 L291.1,691.1 L291.7,695.3 L292.3,696.1 L292.9,695.4 L293.5,694.7 L294.1,693.2 L294.7,698.2 L295.3,693.4 L295.9,695.1 L296.5,694.3 L297.1,692.3 L297.7,692.5 L298.3,694.5 L298.9,693.0 L299.5,689.1 L300.1,688.9 L300.7,688.3 L301.3,688.2 L301.9,685.1 L302.5,684.8 L303.1,685.9 L303.7,687.0 L304.3,685.7 L304.9,687.2 L305.5,687.1 L306.1,690.7 L306.7,688.2 L307.3,691.2 L307.9,688.3 L308.5,688.6 L309.1,689.0 L309.7,687.3 L310.3,682.3 L310.9,677.2 L311.5,668.1 L312.1,661.6 L312.7,652.5 L313.3,639.6 L313.9,627.5 L314.5,622.7 L315.1,626.2 L315.7,630.0 L316.3,636.4 L316.9,646.2 L317.5,653.3 L318.1,660.2 L318.7,667.1 L319.3,670.9 L319.9,674.4 L320.5,676.2 L321.1,680.9 L321.7,680.9 L322.3,684.2 L322.9,685.3 L323.5,687.0 L324.1,679.8 L324.7,685.0 L325.3,685.6 L325.9,687.1 L326.5,689.3 L327.1,689.3 L327.7,689.4 L328.3,689.5 L328.9,689.6 L329.5,688.5 L330.1,695.9 L330.7,692.3 L331.3,690.6 L331.9,692.5 L332.5,692.3 L333.1,689.9 L333.7,692.1 L334.3,689.7 L334.9,692.8 L335.5,692.4 L336.1,694.6 L336.7,696.2 L337.3,693.8 L337.9,693.1 L338.5,693.9 L339.1,695.6 L339.7,692.4 L340.3,693.4 L340.9,693.6 L341.5,694.9 L342.1,691.1 L342.7,691.4 L343.3,693.4 L343.9,694.1 L344.5,693.5 L345.1,691.3 L345.7,689.5 L346.3,694.0 L346.9,694.8 L347.5,697.0 L348.1,689.7 L348.7,696.0 L349.3,692.8 L349.9,693.5 L350.5,692.1 L351.1,695.7 L351.7,696.9 L352.3,694.1 L352.9,693.7 L353.5,692.5 L354.1,697.1 L354.7,695.1 L355.3,694.9 L355.9,696.6 L356.5,694.7 L357.1,693.2 L357.7,694.5 L358.3,696.8 L358.9,694.0 L359.5,693.2 L360.1,693.7 L360.7,693.3 L361.3,697.2 L361.9,693.8 L362.5,693.6 L363.1,695.2 L363.7,694.7 L364.3,695.8 L364.9,692.6 L365.5,695.1 L366.1,696.1 L366.7,694.3 L367.3,694.4 L367.9,693.5 L368.5,695.9 L369.1,695.7 L369.7,694.0 L370.3,691.0 L370.9,693.8 L371.5,696.8 L372.1,694.3 L372.7,695.8 L373.3,697.5 L373.9,695.6 L374.5,695.5 L375.1,693.9 L375.7,692.4 L376.3,692.7 L376.9,693.2 L377.5,695.2 L378.1,694.2 L378.7,694.5 L379.3,692.2 L379.9,695.5 L380.5,695.3 L381.1,692.0 L381.7,693.4 L382.3,695.0 L382.9,694.0 L383.5,694.0 L384.1,693.9 L384.7,692.9 L385.3,693.6 L385.9,694.4 L386.5,694.9 L387.1,696.8 L387.7,694.7 L388.3,692.1 L388.9,693.5 L389.5,694.8 L390.1,694.1 L390.7,695.0 L391.3,693.0 L391.9,690.2 L392.5,690.3 L393.1,691.2 L393.7,691.6 L394.3,692.9 L394.9,694.1 L395.5,691.4 L396.1,691.1 L396.7,687.7 L397.3,687.0 L397.9,686.2 L398.5,682.7 L399.1,677.3 L399.7,683.0 L400.3,680.4 L400.9,682.5 L401.5,684.9 L402.1,687.0 L402.7,686.2 L403.3,685.3 L403.9,682.5 L404.5,679.1 L405.1,674.0 L405.7,667.6 L406.3,655.9 L406.9,645.8 L407.5,636.0 L408.1,625.2 L408.7,625.6 L409.3,630.5 L409.9,637.3 L410.5,651.5 L411.1,659.1 L411.7,667.2 L412.3,674.9 L412.9,677.8 L413.5,676.6 L414.1,678.5 L414.7,679.6 L415.3,681.0 L415.9,684.1 L416.5,685.1 L417.1,687.0 L417.7,688.1 L418.3,689.3 L418.9,691.8 L419.5,688.7 L420.1,693.5 L420.7,691.7 L421.3,690.9 L421.9,692.8 L422.5,694.1 L423.1,693.1 L423.7,690.2 L424.3,692.4 L424.9,694.0 L425.5,692.7 L426.1,694.0 L426.7,696.8 L427.3,693.4 L427.9,692.2 L428.5,692.1 L429.1,694.1 L429.7,696.3 L430.3,692.2 L430.9,694.4 L431.5,693.0 L432.1,692.4 L432.7,693.7 L433.3,694.4 L433.9,695.3 L434.5,695.0 L435.1,694.3 L435.7,695.1 L436.3,693.8 L436.9,697.6 L437.5,696.1 L438.1,694.5 L438.7,695.6 L439.3,695.4 L439.9,696.4 L440.5,693.5 L441.1,692.0 L441.7,696.2 L442.3,692.7 L442.9,696.9 L443.5,694.4 L444.1,697.8 L444.7,693.8 L445.3,694.6 L445.9,694.4 L446.5,692.7 L447.1,693.7 L447.7,694.7 L448.3,696.0 L448.9,694.6 L449.5,695.8 L450.1,695.3 L450.7,692.3 L451.3,693.3 L451.9,694.2 L452.5,693.7 L453.1,697.0 L453.7,694.5 L454.3,697.4 L454.9,695.7 L455.5,694.1 L456.1,694.0 L456.7,693.5 L457.3,694.4 L457.9,694.5 L458.5,694.6 L459.1,692.4 L459.7,692.5 L460.3,696.9 L460.9,694.4 L461.5,692.5 L462.1,695.0 L462.7,694.2 L463.3,695.5 L463.9,696.5 L464.5,694.3 L465.1,695.2 L465.7,694.8 L466.3,696.8 L466.9,696.3 L467.5,694.7 L468.1,695.2 L468.7,693.5 L469.3,696.1 L469.9,693.2 L470.5,693.4 L471.1,694.2 L471.7,693.3 L472.3,694.4 L472.9,694.5 L473.5,694.2 L474.1,696.2 L474.7,694.2 L475.3,692.8 L475.9,696.6 L476.5,692.9 L477.1,694.9 L477.7,694.4 L478.3,693.6 L478.9,693.3 L479.5,691.4 L480.1,693.7 L480.7,690.7 L481.3,693.2 L481.9,692.4 L482.5,692.0 L483.1,694.0 L483.7,694.6 L484.3,692.4 L484.9,691.3 L485.5,690.9 L486.1,692.6 L486.7,689.0 L487.3,691.7 L487.9,692.3 L488.5,689.0 L489.1,688.6 L489.7,691.6 L490.3,688.3 L490.9,691.2 L491.5,688.5 L492.1,684.3 L492.7,685.0 L493.3,685.1 L493.9,684.1 L494.5,685.2 L495.1,681.9 L495.7,679.9 L496.3,680.0 L496.9,675.3 L497.5,671.4 L498.1,667.7 L498.7,662.0 L499.3,656.7 L499.9,650.6 L500.5,640.7 L501.1,636.7 L501.7,630.3 L502.3,627.5 L502.9,631.7 L503.5,642.8 L504.1,657.6 L504.7,661.5 L505.3,671.2 L505.9,678.7 L506.5,681.5 L507.1,684.3 L507.7,688.1 L508.3,688.3 L508.9,683.8 L509.5,688.1 L510.1,682.4 L510.7,682.3 L511.3,681.5 L511.9,681.2 L512.5,683.2 L513.1,684.4 L513.7,687.1 L514.3,689.0 L514.9,689.2 L515.5,691.9 L516.1,694.0 L516.7,693.1 L517.3,695.9 L517.9,694.5 L518.5,690.5 L519.1,693.1 L519.7,694.3 L520.3,695.0 L520.9,697.0 L521.5,695.1 L522.1,695.5 L522.7,694.3 L523.3,694.2 L523.9,694.5 L524.5,697.5 L525.1,692.1 L525.7,693.8 L526.3,694.5 L526.9,695.0 L527.5,693.8 L528.1,692.6 L528.7,693.6 L529.3,696.5 L529.9,696.6 L530.5,698.4 L531.1,694.4 L531.7,693.5 L532.3,692.7 L532.9,694.5 L533.5,693.4 L534.1,696.2 L534.7,693.9 L535.3,694.9 L535.9,695.8 L536.5,697.4 L537.1,692.9 L537.7,698.3 L538.3,693.7 L538.9,696.0 L539.5,693.8 L540.1,695.6 L540.7,693.5 L541.3,695.1 L541.9,696.4 L542.5,695.5 L543.1,697.3 L543.7,694.3 L544.3,693.0 L544.9,694.0 L545.5,694.5 L546.1,692.6 L546.7,696.5 L547.3,693.8 L547.9,694.6 L548.5,695.4 L549.1,693.7 L549.7,696.4 L550.3,694.8 L550.9,694.0 L551.5,696.4 L552.1,694.9 L552.7,693.7 L553.3,693.0 L553.9,696.0 L554.5,693.0 L555.1,694.9 L555.7,694.3 L556.3,695.3 L556.9,693.1 L557.5,695.5 L558.1,693.9 L558.7,693.7 L559.3,693.0 L559.9,695.9 L560.5,692.9 L561.1,694.1 L561.7,691.8 L562.3,694.6 L562.9,694.9 L563.5,694.1 L564.1,694.4 L564.7,694.2 L565.3,695.9 L565.9,697.1 L566.5,696.1 L567.1,694.6 L567.7,692.9 L568.3,694.0 L568.9,695.0 L569.5,693.6 L570.1,693.2 L570.7,688.8 L571.3,691.1 L571.9,692.7 L572.5,695.2 L573.1,693.1 L573.7,693.2 L574.3,691.6 L574.9,689.0 L575.5,692.3 L576.1,695.2 L576.7,692.1 L577.3,694.4 L577.9,690.1 L578.5,689.5 L579.1,690.5 L579.7,693.1 L580.3,690.7 L580.9,688.1 L581.5,691.3 L582.1,690.2 L582.7,688.4 L583.3,687.5 L583.9,687.6 L584.5,686.5 L585.1,686.0 L585.7,686.4 L586.3,684.6 L586.9,682.9 L587.5,683.8 L588.1,680.1 L588.7,678.4 L589.3,675.6 L589.9,673.1 L590.5,672.1 L591.1,668.4 L591.7,661.0 L592.3,655.5 L592.9,647.7 L593.5,640.0 L594.1,631.5 L594.7,619.4 L595.3,612.5 L595.9,607.7 L596.5,609.5 L597.1,618.3 L597.7,631.1 L598.3,647.8 L598.9,662.2 L599.5,670.2 L600.1,678.9 L600.7,684.5 L601.3,684.9 L601.9,690.6 L602.5,687.9 L603.1,688.2 L603.7,685.9 L604.3,688.4 L604.9,686.3 L605.5,690.0 L606.1,689.3 L606.7,685.8 L607.3,688.8 L607.9,684.6 L608.5,687.2 L609.1,690.6 L609.7,685.6 L610.3,691.4 L610.9,686.7 L611.5,694.0 L612.1,693.7 L612.7,692.6 L613.3,693.4 L613.9,696.2 L614.5,693.7 L615.1,693.8 L615.7,693.5 L616.3,696.8 L616.9,695.3 L617.5,694.6 L618.1,693.2 L618.7,694.2 L619.3,695.1 L619.9,695.3 L620.5,692.3 L621.1,695.9 L621.7,694.2 L622.3,698.1 L622.9,692.0 L623.5,694.0 L624.1,697.5 L624.7,693.8 L625.3,692.5 L625.9,693.5 L626.5,694.7 L627.1,693.4 L627.7,696.0 L628.3,695.2 L628.9,695.4 L629.5,694.7 L630.1,696.5 L630.7,692.6 L631.3,695.0 L631.9,696.5 L632.5,695.2 L633.1,694.2 L633.7,694.7 L634.3,693.1 L634.9,695.4 L635.5,696.0 L636.1,694.0 L636.7,692.8 L637.3,696.3 L637.9,697.3 L638.5,695.8 L639.1,694.9 L639.7,696.4 L640.3,694.5 L640.9,696.1 L641.5,693.3 L642.1,696.6 L642.7,696.2 L643.3,694.6 L643.9,693.6 L644.5,693.2 L645.1,695.8 L645.7,694.7 L646.3,693.8 L646.9,692.4 L647.5,696.1 L648.1,696.6 L648.7,693.8 L649.3,695.0 L649.9,692.4 L650.5,694.5 L651.1,694.0 L651.7,695.8 L652.3,694.0 L652.9,692.5 L653.5,694.8 L654.1,696.3 L654.7,692.9 L655.3,694.8 L655.9,694.2 L656.5,695.4 L657.1,692.7 L657.7,695.4 L658.3,694.9 L658.9,694.1 L659.5,694.4 L660.1,697.6 L660.7,693.2 L661.3,695.7 L661.9,693.4 L662.5,694.4 L663.1,693.9 L663.7,694.8 L664.3,695.2 L664.9,693.2 L665.5,693.0 L666.1,691.6 L666.7,692.3 L667.3,694.1 L667.9,691.0 L668.5,689.2 L669.1,691.5 L669.7,692.8 L670.3,693.8 L670.9,692.0 L671.5,694.2 L672.1,690.4 L672.7,692.1 L673.3,692.1 L673.9,690.5 L674.5,692.6 L675.1,693.0 L675.7,690.5 L676.3,687.5 L676.9,690.3 L677.5,687.0 L678.1,690.6 L678.7,687.1 L679.3,685.3 L679.9,682.3 L680.5,686.9 L681.1,682.9 L681.7,682.6 L682.3,678.8 L682.9,677.9 L683.5,674.2 L684.1,672.2 L684.7,667.7 L685.3,661.1 L685.9,653.1 L686.5,647.8 L687.1,639.5 L687.7,631.7 L688.3,620.8 L688.9,621.9 L689.5,622.1 L690.1,625.6 L690.7,632.9 L691.3,643.2 L691.9,655.0 L692.5,664.6 L693.1,673.7 L693.7,680.9 L694.3,686.2 L694.9,686.8 L695.5,691.0 L696.1,690.1 L696.7,690.4 L697.3,693.1 L697.9,693.3 L698.5,693.8 L699.1,692.1 L699.7,693.2 L700.3,694.7 L700.9,693.3 L701.5,691.5 L702.1,693.6 L702.7,694.0 L703.3,694.9 L703.9,695.8 L704.5,694.4 L705.1,694.4 L705.7,695.1 L706.3,692.8 L706.9,695.1 L707.5,695.0 L708.1,694.5 L708.7,694.0 L709.3,697.7 L709.9,694.5 L710.5,692.9 L711.1,696.7 L711.7,694.4 L712.3,695.8 L712.9,696.6 L713.5,694.6 L714.1,695.2 L714.7,698.4 L715.3,696.1 L715.9,693.8 L716.5,696.1 L717.1,696.3 L717.7,695.8 L718.3,695.9 L718.9,694.0 L719.5,696.6 L720.1,697.1 L720.7,694.5 L721.3,693.7 L721.9,694.1 L722.5,693.9 L723.1,696.3 L723.7,697.6 L724.3,696.4 L724.9,695.3 L725.5,698.0 L726.1,695.8 L726.7,694.4 L727.3,696.4 L727.9,692.2 L728.5,694.1 L729.1,697.3 L729.7,697.1 L730.3,696.5 L730.9,694.2 L731.5,694.6 L732.1,696.2 L732.7,695.1 L733.3,694.1 L733.9,694.5 L734.5,697.9 L735.1,697.1 L735.7,696.8 L736.3,698.1 L736.9,694.0 L737.5,696.4 L738.1,696.4 L738.7,696.7 L739.3,694.9 L739.9,694.5 L740.5,694.3 L741.1,693.4 L741.7,696.9 L742.3,692.8 L742.9,691.5 L743.5,696.2 L744.1,696.0 L744.7,694.4 L745.3,693.4 L745.9,695.8 L746.5,696.7 L747.1,692.1 L747.7,696.2 L748.3,699.8 L748.9,694.6 L749.5,693.8 L750.1,692.7 L750.7,692.6 L751.3,690.5 L751.9,696.3 L752.5,697.0 L753.1,697.7 L753.7,692.7 L754.3,696.1 L754.9,698.1 L755.5,698.7 L756.1,695.2 L756.7,696.1 L757.3,694.9 L757.9,696.8 L758.5,696.6 L759.1,694.7 L759.7,695.7 L760.3,694.5 L760.9,695.6 L761.5,695.9 L762.1,694.9 L762.7,696.0 L763.3,695.1 L763.9,694.7 L764.5,696.2 L765.1,695.6 L765.7,695.3 L766.3,694.4 L766.9,695.1 L767.5,695.0 L768.1,694.7 L768.7,695.9 L769.3,694.9 L769.9,696.6 L770.5,698.3 L771.1,694.8 L771.7,698.6 L772.3,695.7 L772.9,693.0 L773.5,694.3 L774.1,697.1 L774.7,694.3 L775.3,695.1 L775.9,696.8 L776.5,695.6 L777.1,696.3 L777.7,696.0 L778.3,694.9 L778.9,697.9 L779.5,694.1 L780.1,692.3 L780.7,695.7 L781.3,697.0 L781.9,696.1 L782.5,693.5 L783.1,696.3 L783.7,694.7 L784.3,691.8 L784.9,696.6 L785.5,695.3 L786.1,696.4 L786.7,696.0 L787.3,695.3 L787.9,696.6 L788.5,694.7 L789.1,695.2"/>
<path stroke="#00aa0a" d="M42.7,748.9 L43.3,751.9 L43.9,753.0 L44.5,755.4 L45.1,750.8 L45.7,747.9 L46.3,750.1 L46.9,749.2 L47.5,748.3 L48.1,751.7 L48.7,745.4 L49.3,751.7 L49.9,749.5 L50.5,745.2 L51.1,750.3 L51.7,749.9 L52.3,751.1 L52.9,749.5 L53.5,754.0 L54.1,751.3 L54.7,747.1 L55.3,749.7 L55.9,750.6 L56.5,749.5 L57.1,749.4 L57.7,749.9 L58.3,749.1 L58.9,753.1 L59.5,749.1 L60.1,751.3 L60.7,748.7 L61.3,750.2 L61.9,751.9 L62.5,750.2 L63.1,751.9 L63.7,748.3 L64.3,750.2 L64.9,748.6 L65.5,752.1 L66.1,747.2 L66.7,750.6 L67.3,747.6 L67.9,748.6 L68.5,752.1 L69.1,749.5 L69.7,745.1 L70.3,747.9 L70.9,747.5 L71.5,748.9 L72.1,748.2 L72.7,752.2 L73.3,749.7 L73.9,749.4 L74.5,748.1 L75.1,751.2 L75.7,749.1 L76.3,749.3 L76.9,752.8 L77.5,751.9 L78.1,749.3 L78.7,752.2 L79.3,752.3 L79.9,748.4 L80.5,749.5 L81.1,750.5 L81.7,749.8 L82.3,750.8 L82.9,751.0 L83.5,750.9 L84.1,749.3 L84.7,747.6 L85.3,750.9 L85.9,750.1 L86.5,750.4 L87.1,752.3 L87.7,749.5 L88.3,748.4 L88.9,751.5 L89.5,748.5 L90.1,751.0 L90.7,747.9 L91.3,747.7 L91.9,750.6 L92.5,753.5 L93.1,750.5 L93.7,752.4 L94.3,752.2 L94.9,750.3 L95.5,747.4 L96.1,750.0 L96.7,750.2 L97.3,753.1 L97.9,750.8 L98.5,752.2 L99.1,748.7 L99.7,750.6 L100.3,749.7 L100.9,749.5 L101.5,749.7 L102.1,747.5 L102.7,748.2 L103.3,749.3 L103.9,748.1 L104.5,746.9 L105.1,744.9 L105.7,746.5 L106.3,743.4 L106.9,746.3 L107.5,745.0 L108.1,746.6 L108.7,742.0 L109.3,745.2 L109.9,745.3 L110.5,742.2 L111.1,745.2 L111.7,746.2 L112.3,743.8 L112.9,746.5 L113.5,745.0 L114.1,747.8 L114.7,746.1 L115.3,745.6 L115.9,747.5 L116.5,744.4 L117.1,748.3 L117.7,747.7 L118.3,746.9 L118.9,744.7 L119.5,746.2 L120.1,745.2 L120.7,742.0 L121.3,737.2 L121.9,736.0 L122.5,731.8 L123.1,722.5 L123.7,712.8 L124.3,706.3 L124.9,697.3 L125.5,695.5 L126.1,690.7 L126.7,692.8 L127.3,696.9 L127.9,703.8 L128.5,709.4 L129.1,718.5 L129.7,720.6 L130.3,729.0 L130.9,730.6 L131.5,730.4 L132.1,733.2 L132.7,739.9 L133.3,737.1 L133.9,740.3 L134.5,742.0 L135.1,741.2 L135.7,742.2 L136.3,740.6 L136.9,746.3 L137.5,745.0 L138.1,745.0 L138.7,748.4 L139.3,743.4 L139.9,742.7 L140.5,747.2 L141.1,745.7 L141.7,747.1 L142.3,746.4 L142.9,748.2 L143.5,745.7 L144.1,749.5 L144.7,745.1 L145.3,747.0 L145.9,743.4 L146.5,750.9 L147.1,748.2 L147.7,750.4 L148.3,748.5 L148.9,747.5 L149.5,750.0 L150.1,751.1 L150.7,751.7 L151.3,748.2 L151.9,746.4 L152.5,746.6 L153.1,748.7 L153.7,750.6 L154.3,749.5 L154.9,751.6 L155.5,751.8 L156.1,747.1 L156.7,749.5 L157.3,748.5 L157.9,749.6 L158.5,746.8 L159.1,746.6 L159.7,750.6 L160.3,749.9 L160.9,750.5 L161.5,746.9 L162.1,747.1 L162.7,749.9 L163.3,745.2 L163.9,749.3 L164.5,751.6 L165.1,753.1 L165.7,749.7 L166.3,748.9 L166.9,750.5 L167.5,748.8 L168.1,747.3 L168.7,749.6 L169.3,748.0 L169.9,746.5 L170.5,748.6 L171.1,750.6 L171.7,748.8 L172.3,748.6 L172.9,745.7 L173.5,750.4 L174.1,752.4 L174.7,749.0 L175.3,749.0 L175.9,750.3 L176.5,748.6 L177.1,749.0 L177.7,747.4 L178.3,751.1 L178.9,750.9 L179.5,749.7 L180.1,750.5 L180.7,747.3 L181.3,748.6 L181.9,749.7 L182.5,746.9 L183.1,748.7 L183.7,747.8 L184.3,748.2 L184.9,749.9 L185.5,749.9 L186.1,749.6 L186.7,751.5 L187.3,750.2 L187.9,748.0 L188.5,749.0 L189.1,751.2 L189.7,745.3 L190.3,751.4 L190.9,748.4 L191.5,748.2 L192.1,747.2 L192.7,751.0 L193.3,749.4 L193.9,749.8 L194.5,747.3 L195.1,748.7 L195.7,748.6 L196.3,748.3 L196.9,745.7 L197.5,747.9 L198.1,747.5 L198.7,750.7 L199.3,747.6 L199.9,750.9 L200.5,746.8 L201.1,747.8 L201.7,749.2 L202.3,749.0 L202.9,746.2 L203.5,744.7 L204.1,744.6 L204.7,742.8 L205.3,741.3 L205.9,740.5 L206.5,739.0 L207.1,737.8 L207.7,736.3 L208.3,738.3 L208.9,741.5 L209.5,738.8 L210.1,740.7 L210.7,744.3 L211.3,742.7 L211.9,746.0 L212.5,746.5 L213.1,746.4 L213.7,741.7 L214.3,743.5 L214.9,741.8 L215.5,739.9 L216.1,737.1 L216.7,730.3 L217.3,722.7 L217.9,711.0 L218.5,704.9 L219.1,688.6 L219.7,678.7 L220.3,674.2 L220.9,665.4 L221.5,665.8 L222.1,672.7 L222.7,682.6 L223.3,691.8 L223.9,704.2 L224.5,707.6 L225.1,714.1 L225.7,721.3 L226.3,723.5 L226.9,728.5 L227.5,726.1 L228.1,734.7 L228.7,736.1 L229.3,740.0 L229.9,738.2 L230.5,738.5 L231.1,739.7 L231.7,741.8 L232.3,739.9 L232.9,741.7 L233.5,740.6 L234.1,743.5 L234.7,746.9 L235.3,744.5 L235.9,746.4 L236.5,743.5 L237.1,746.4 L237.7,746.0 L238.3,745.9 L238.9,748.8 L239.5,747.0 L240.1,744.9 L240.7,747.7 L241.3,747.2 L241.9,746.7 L242.5,748.4 L243.1,747.9 L243.7,746.7 L244.3,748.3 L244.9,747.6 L245.5,748.1 L246.1,749.8 L246.7,750.3 L247.3,744.5 L247.9,745.7 L248.5,748.5 L249.1,746.6 L249.7,746.4 L250.3,746.7 L250.9,749.2 L251.5,751.1 L252.1,750.9 L252.7,749.1 L253.3,746.3 L253.9,745.9 L254.5,749.2 L255.1,749.4 L255.7,746.7 L256.3,745.2 L256.9,750.6 L257.5,748.1 L258.1,748.7 L258.7,749.6 L259.3,749.6 L259.9,749.7 L260.5,749.1 L261.1,751.9 L261.7,749.1 L262.3,747.8 L262.9,747.8 L263.5,747.8 L264.1,748.6 L264.7,748.9 L265.3,745.8 L265.9,749.6 L266.5,749.0 L267.1,747.1 L267.7,749.2 L268.3,751.6 L268.9,750.3 L269.5,750.1 L270.1,749.6 L270.7,750.2 L271.3,747.6 L271.9,748.1 L272.5,748.5 L273.1,750.1 L273.7,747.6 L274.3,747.7 L274.9,745.5 L275.5,750.5 L276.1,749.6 L276.7,747.0 L277.3,751.4 L277.9,749.0 L278.5,749.1 L279.1,749.4 L279.7,751.1 L280.3,749.4 L280.9,752.1 L281.5,747.3 L282.1,750.3 L282.7,749.2 L283.3,749.5 L283.9,749.1 L284.5,749.2 L285.1,748.7 L285.7,750.1 L286.3,749.4 L286.9,751.4 L287.5,751.3 L288.1,750.9 L288.7,751.2 L289.3,751.9 L289.9,750.5 L290.5,748.2 L291.1,748.6 L291.7,750.1 L292.3,748.7 L292.9,748.6 L293.5,744.4 L294.1,752.0 L294.7,748.6 L295.3,751.3 L295.9,746.7 L296.5,749.2 L297.1,747.8 L297.7,747.9 L298.3,746.5 L298.9,752.0 L299.5,747.3 L300.1,742.6 L300.7,741.8 L301.3,734.2 L301.9,728.8 L302.5,730.0 L303.1,727.5 L303.7,727.0 L304.3,728.0 L304.9,733.2 L305.5,737.3 L306.1,743.2 L306.7,743.7 L307.3,744.9 L307.9,746.8 L308.5,745.1 L309.1,745.9 L309.7,745.0 L310.3,738.3 L310.9,738.9 L311.5,730.0 L312.1,727.0 L312.7,718.0 L313.3,711.3 L313.9,702.4 L314.5,694.1 L315.1,696.5 L315.7,702.9 L316.3,700.6 L316.9,707.9 L317.5,709.0 L318.1,709.9 L318.7,716.0 L319.3,714.1 L319.9,719.5 L320.5,727.3 L321.1,730.3 L321.7,734.9 L322.3,738.2 L322.9,739.7 L323.5,743.5 L324.1,742.9 L324.7,744.2 L325.3,740.7 L325.9,747.4 L326.5,743.1 L327.1,744.5 L327.7,746.0 L328.3,747.7 L328.9,743.6 L329.5,744.5 L330.1,747.4 L330.7,747.9 L331.3,747.4 L331.9,744.6 L332.5,749.7 L333.1,748.0 L333.7,746.3 L334.3,750.9 L334.9,748.7 L335.5,746.6 L336.1,749.5 L336.7,748.9 L337.3,751.6 L337.9,748.2 L338.5,751.0 L339.1,749.7 L339.7,748.4 L340.3,750.1 L340.9,747.6 L341.5,747.9 L342.1,748.3 L342.7,747.5 L343.3,749.6 L343.9,753.2 L344.5,747.8 L345.1,748.0 L345.7,750.2 L346.3,750.9 L346.9,747.4 L347.5,750.3 L348.1,750.2 L348.7,750.3 L349.3,745.3 L349.9,750.8 L350.5,754.2 L351.1,749.8 L351.7,751.5 L352.3,752.8 L352.9,749.5 L353.5,750.7 L354.1,748.2 L354.7,750.4 L355.3,747.7 L355.9,748.1 L356.5,749.8 L357.1,748.5 L357.7,746.6 L358.3,748.7 L358.9,752.4 L359.5,749.8 L360.1,749.5 L360.7,747.7 L361.3,750.1 L361.9,747.9 L362.5,750.2 L363.1,749.9 L363.7,750.4 L364.3,749.9 L364.9,750.2 L365.5,749.4 L366.1,751.3 L366.7,751.8 L367.3,750.1 L367.9,749.7 L368.5,750.7 L369.1,749.3 L369.7,749.4 L370.3,747.0 L370.9,752.6 L371.5,746.5 L372.1,754.2 L372.7,753.2 L373.3,749.6 L373.9,751.8 L374.5,750.6 L375.1,750.9 L375.7,752.4 L376.3,752.5 L376.9,750.8 L377.5,749.5 L378.1,749.0 L378.7,749.8 L379.3,750.7 L379.9,747.9 L380.5,753.9 L381.1,750.0 L381.7,747.8 L382.3,747.1 L382.9,747.9 L383.5,747.6 L384.1,748.1 L384.7,749.7 L385.3,753.9 L385.9,750.8 L386.5,750.3 L387.1,747.0 L387.7,750.5 L388.3,750.3 L388.9,748.4 L389.5,751.3 L390.1,749.4 L390.7,748.4 L391.3,749.8 L391.9,749.2 L392.5,752.1 L393.1,751.0 L393.7,748.9 L394.3,745.9 L394.9,748.0 L395.5,746.9 L396.1,743.8 L396.7,736.9 L397.3,734.7 L397.9,724.9 L398.5,718.9 L399.1,713.2 L399.7,713.8 L400.3,715.8 L400.9,719.7 L401.5,729.5 L402.1,735.8 L402.7,743.7 L403.3,740.5 L403.9,742.8 L404.5,739.4 L405.1,736.2 L405.7,732.0 L406.3,724.1 L406.9,716.4 L407.5,701.8 L408.1,697.3 L408.7,695.6 L409.3,698.3 L409.9,705.1 L410.5,714.5 L411.1,721.9 L411.7,724.8 L412.3,734.7 L412.9,730.5 L413.5,728.4 L414.1,721.9 L414.7,721.3 L415.3,715.8 L415.9,713.3 L416.5,721.0 L417.1,723.7 L417.7,732.3 L418.3,736.7 L418.9,743.4 L419.5,744.9 L420.1,748.6 L420.7,746.1 L421.3,751.0 L421.9,747.7 L422.5,749.6 L423.1,749.1 L423.7,746.4 L424.3,749.5 L424.9,750.3 L425.5,749.2 L426.1,748.1 L426.7,750.3 L427.3,746.4 L427.9,749.1 L428.5,750.1 L429.1,750.7 L429.7,749.8 L430.3,748.6 L430.9,747.7 L431.5,749.5 L432.1,750.7 L432.7,749.7 L433.3,753.4 L433.9,747.7 L434.5,748.2 L435.1,750.1 L435.7,748.5 L436.3,751.5 L436.9,746.5 L437.5,749.9 L438.1,750.4 L438.7,745.8 L439.3,751.2 L439.9,748.7 L440.5,750.9 L441.1,750.4 L441.7,749.9 L442.3,750.4 L442.9,746.7 L443.5,747.4 L444.1,750.4 L444.7,745.1 L445.3,749.4 L445.9,749.7 L446.5,748.7 L447.1,751.2 L447.7,747.0 L448.3,751.0 L448.9,751.7 L449.5,747.5 L450.1,751.1 L450.7,749.9 L451.3,751.6 L451.9,750.3 L452.5,749.3 L453.1,753.8 L453.7,749.7 L454.3,751.0 L454.9,747.1 L455.5,746.0 L456.1,748.7 L456.7,748.6 L457.3,747.8 L457.9,747.8 L458.5,752.2 L459.1,752.0 L459.7,750.6 L460.3,752.2 L460.9,750.3 L461.5,749.6 L462.1,751.2 L462.7,748.9 L463.3,747.2 L463.9,749.7 L464.5,749.0 L465.1,749.8 L465.7,749.9 L466.3,750.7 L466.9,751.8 L467.5,748.8 L468.1,747.9 L468.7,749.9 L469.3,749.6 L469.9,752.2 L470.5,750.2 L471.1,749.3 L471.7,750.0 L472.3,749.7 L472.9,751.6 L473.5,752.1 L474.1,750.2 L474.7,747.1 L475.3,750.5 L475.9,752.4 L476.5,750.9 L477.1,750.1 L477.7,747.6 L478.3,747.8 L478.9,751.1 L479.5,751.5 L480.1,750.1 L480.7,749.7 L481.3,751.4 L481.9,747.9 L482.5,750.4 L483.1,749.1 L483.7,749.9 L484.3,748.6 L484.9,749.7 L485.5,749.0 L486.1,747.2 L486.7,748.9 L487.3,746.7 L487.9,751.4 L488.5,749.4 L489.1,750.8 L489.7,751.3 L490.3,748.6 L490.9,744.8 L491.5,747.2 L492.1,744.9 L492.7,748.4 L493.3,742.0 L493.9,740.6 L494.5,733.2 L495.1,726.0 L495.7,723.1 L496.3,716.4 L496.9,718.7 L497.5,719.7 L498.1,725.5 L498.7,728.1 L499.3,730.1 L499.9,731.8 L500.5,723.4 L501.1,716.2 L501.7,704.7 L502.3,707.2 L502.9,702.7 L503.5,706.4 L504.1,712.3 L504.7,721.8 L505.3,731.6 L505.9,734.5 L506.5,740.8 L507.1,742.4 L507.7,742.4 L508.3,740.3 L508.9,733.1 L509.5,733.5 L510.1,727.4 L510.7,717.4 L511.3,714.8 L511.9,714.2 L512.5,719.3 L513.1,722.8 L513.7,730.2 L514.3,736.1 L514.9,740.5 L515.5,742.9 L516.1,745.3 L516.7,747.6 L517.3,745.0 L517.9,747.6 L518.5,749.3 L519.1,751.3 L519.7,749.3 L520.3,752.1 L520.9,750.9 L521.5,751.5 L522.1,751.1 L522.7,749.3 L523.3,755.4 L523.9,747.1 L524.5,749.0 L525.1,750.6 L525.7,751.0 L526.3,748.6 L526.9,750.1 L527.5,746.9 L528.1,750.3 L528.7,751.7 L529.3,752.6 L529.9,750.2 L530.5,748.2 L531.1,752.2 L531.7,747.8 L532.3,748.6 L532.9,750.6 L533.5,747.8 L534.1,753.2 L534.7,754.0 L535.3,749.6 L535.9,749.3 L536.5,749.4 L537.1,750.2 L537.7,752.7 L538.3,749.1 L538.9,750.7 L539.5,748.5 L540.1,749.7 L540.7,752.1 L541.3,749.0 L541.9,748.6 L542.5,748.6 L543.1,751.3 L543.7,751.9 L544.3,748.6 L544.9,750.1 L545.5,750.2 L546.1,748.2 L546.7,748.1 L547.3,749.1 L547.9,750.3 L548.5,747.3 L549.1,751.8 L549.7,749.9 L550.3,749.3 L550.9,752.4 L551.5,751.2 L552.1,748.3 L552.7,750.0 L553.3,751.7 L553.9,746.8 L554.5,749.5 L555.1,749.6 L555.7,746.5 L556.3,752.4 L556.9,750.7 L557.5,751.3 L558.1,747.3 L558.7,751.1 L559.3,745.4 L559.9,748.7 L560.5,749.0 L561.1,747.7 L561.7,749.9 L562.3,751.1 L562.9,750.5 L563.5,749.3 L564.1,751.1 L564.7,749.0 L565.3,750.4 L565.9,749.6 L566.5,749.3 L567.1,746.2 L567.7,744.9 L568.3,745.6 L568.9,749.0 L569.5,749.9 L570.1,746.6 L570.7,746.0 L571.3,746.6 L571.9,749.3 L572.5,747.5 L573.1,748.5 L573.7,746.0 L574.3,746.1 L574.9,747.2 L575.5,748.2 L576.1,744.2 L576.7,746.8 L577.3,745.5 L577.9,745.8 L578.5,745.2 L579.1,744.2 L579.7,746.7 L580.3,746.6 L580.9,744.4 L581.5,751.0 L582.1,745.0 L582.7,745.3 L583.3,742.7 L583.9,742.9 L584.5,743.2 L585.1,744.3 L585.7,741.8 L586.3,741.1 L586.9,739.4 L587.5,737.9 L588.1,738.1 L588.7,734.1 L589.3,733.9 L589.9,729.6 L590.5,726.6 L591.1,720.9 L591.7,718.2 L592.3,709.3 L592.9,705.6 L593.5,698.4 L594.1,687.5 L594.7,684.3 L595.3,678.4 L595.9,680.2 L596.5,687.3 L597.1,696.7 L597.7,707.7 L598.3,715.9 L598.9,726.9 L599.5,736.7 L600.1,738.6 L600.7,739.6 L601.3,741.3 L601.9,743.0 L602.5,744.6 L603.1,746.4 L603.7,741.4 L604.3,744.0 L604.9,742.8 L605.5,742.1 L606.1,730.3 L606.7,729.1 L607.3,727.8 L607.9,719.5 L608.5,718.6 L609.1,724.0 L609.7,722.9 L610.3,728.6 L610.9,731.9 L611.5,734.9 L612.1,741.6 L612.7,739.6 L613.3,745.6 L613.9,747.7 L614.5,745.4 L615.1,749.2 L615.7,749.0 L616.3,747.1 L616.9,750.3 L617.5,751.3 L618.1,748.5 L618.7,749.1 L619.3,750.2 L619.9,747.6 L620.5,751.4 L621.1,748.0 L621.7,751.4 L622.3,748.6 L622.9,751.7 L623.5,748.4 L624.1,749.7 L624.7,750.4 L625.3,749.5 L625.9,750.0 L626.5,748.3 L627.1,750.9 L627.7,749.0 L628.3,750.4 L628.9,750.9 L629.5,750.7 L630.1,751.8 L630.7,749.3 L631.3,749.7 L631.9,749.3 L632.5,752.8 L633.1,750.7 L633.7,747.2 L634.3,747.8 L634.9,750.1 L635.5,749.9 L636.1,749.6 L636.7,748.0 L637.3,747.3 L637.9,749.3 L638.5,749.4 L639.1,749.9 L639.7,749.2 L640.3,746.6 L640.9,751.0 L641.5,748.6 L642.1,751.8 L642.7,751.7 L643.3,752.7 L643.9,750.8 L644.5,747.1 L645.1,746.8 L645.7,748.3 L646.3,749.8 L646.9,747.8 L647.5,751.6 L648.1,752.2 L648.7,751.2 L649.3,750.0 L649.9,752.9 L650.5,751.0 L651.1,746.6 L651.7,750.0 L652.3,750.3 L652.9,750.7 L653.5,748.3 L654.1,748.4 L654.7,749.4 L655.3,749.8 L655.9,753.3 L656.5,752.1 L657.1,750.2 L657.7,750.4 L658.3,749.9 L658.9,750.2 L659.5,746.1 L660.1,747.3 L660.7,751.2 L661.3,747.8 L661.9,748.4 L662.5,749.1 L663.1,749.5 L663.7,748.3 L664.3,745.6 L664.9,749.8 L665.5,749.0 L666.1,748.9 L666.7,751.6 L667.3,748.4 L667.9,749.8 L668.5,747.8 L669.1,747.4 L669.7,744.8 L670.3,748.2 L670.9,748.1 L671.5,746.2 L672.1,743.8 L672.7,746.7 L673.3,746.0 L673.9,745.6 L674.5,745.4 L675.1,746.9 L675.7,747.1 L676.3,746.5 L676.9,745.6 L677.5,743.9 L678.1,745.4 L678.7,744.7 L679.3,742.6 L679.9,742.0 L680.5,740.7 L681.1,742.0 L681.7,735.1 L682.3,737.3 L682.9,735.4 L683.5,734.2 L684.1,729.0 L684.7,724.5 L685.3,722.0 L685.9,716.8 L686.5,710.5 L687.1,698.7 L687.7,693.7 L688.3,688.5 L688.9,683.3 L689.5,681.8 L690.1,688.5 L690.7,696.8 L691.3,707.1 L691.9,717.7 L692.5,725.0 L693.1,730.1 L693.7,737.2 L694.3,742.1 L694.9,745.3 L695.5,745.4 L696.1,747.2 L696.7,748.3 L697.3,746.1 L697.9,746.9 L698.5,745.6 L699.1,746.6 L699.7,747.9 L700.3,745.0 L700.9,744.9 L701.5,741.8 L702.1,744.1 L702.7,741.0 L703.3,738.3 L703.9,734.4 L704.5,735.9 L705.1,739.4 L705.7,740.3 L706.3,739.6 L706.9,745.1 L707.5,745.3 L708.1,745.9 L708.7,747.5 L709.3,747.3 L709.9,747.0 L710.5,748.4 L711.1,751.3 L711.7,747.0 L712.3,747.6 L712.9,751.0 L713.5,750.2 L714.1,752.0 L714.7,747.3 L715.3,750.6 L715.9,749.1 L716.5,749.0 L717.1,747.6 L717.7,749.7 L718.3,750.5 L718.9,748.9 L719.5,748.2 L720.1,750.8 L720.7,750.1 L721.3,752.6 L721.9,747.5 L722.5,751.1 L723.1,748.3 L723.7,748.5 L724.3,748.7 L724.9,748.4 L725.5,751.4 L726.1,749.7 L726.7,751.2 L727.3,750.3 L727.9,751.3 L728.5,745.9 L729.1,749.6 L729.7,748.3 L730.3,751.2 L730.9,746.9 L731.5,750.2 L732.1,750.3 L732.7,750.5 L733.3,752.7 L733.9,753.5 L734.5,749.6 L735.1,751.9 L735.7,750.4 L736.3,746.6 L736.9,750.5 L737.5,746.5 L738.1,749.5 L738.7,751.9 L739.3,749.0 L739.9,748.1 L740.5,748.7 L741.1,751.3 L741.7,751.9 L742.3,748.6 L742.9,746.8 L743.5,747.0 L744.1,750.7 L744.7,750.5 L745.3,749.6 L745.9,748.1 L746.5,749.3 L747.1,749.3 L747.7,750.0 L748.3,754.6 L748.9,752.2 L749.5,749.8 L750.1,752.7 L750.7,746.5 L751.3,751.4 L751.9,748.9 L752.5,748.4 L753.1,748.0 L753.7,752.0 L754.3,750.3 L754.9,747.4 L755.5,749.9 L756.1,748.6 L756.7,754.3 L757.3,749.3 L757.9,749.8 L758.5,750.3 L759.1,753.2 L759.7,751.3 L760.3,750.5 L760.9,750.7 L761.5,752.0 L762.1,748.2 L762.7,748.4 L763.3,750.7 L763.9,747.5 L764.5,752.1 L765.1,749.5 L765.7,747.2 L766.3,749.0 L766.9,750.3 L767.5,749.2 L768.1,750.3 L768.7,751.0 L769.3,751.4 L769.9,750.0 L770.5,750.3 L771.1,749.5 L771.7,751.5 L772.3,749.6 L772.9,748.4 L773.5,751.2 L774.1,747.3 L774.7,751.4 L775.3,751.4 L775.9,751.2 L776.5,752.3 L777.1,752.9 L777.7,752.2 L778.3,750.6 L778.9,751.6 L779.5,747.6 L780.1,750.5 L780.7,750.9 L781.3,751.2 L781.9,749.4 L782.5,750.0 L783.1,749.6 L783.7,748.7 L784.3,747.5 L784.9,751.7 L785.5,748.9 L786.1,750.0 L786.7,749.7 L787.3,751.1 L787.9,749.0 L788.5,749.0 L789.1,749.5"/>
<path stroke="#0055aa" d="M42.7,808.8 L43.3,807.9 L43.9,805.5 L44.5,807.2 L45.1,805.3 L45.7,804.8 L46.3,808.8 L46.9,804.4 L47.5,807.3 L48.1,802.4 L48.7,804.9 L49.3,807.2 L49.9,805.8 L50.5,805.8 L51.1,805.6 L51.7,803.7 L52.3,805.2 L52.9,803.2 L53.5,805.1 L54.1,806.5 L54.7,809.0 L55.3,809.0 L55.9,805.8 L56.5,804.9 L57.1,803.6 L57.7,807.3 L58.3,806.1 L58.9,807.7 L59.5,807.0 L60.1,810.3 L60.7,804.8 L61.3,807.5 L61.9,806.3 L62.5,805.4 L63.1,805.6 L63.7,808.6 L64.3,803.4 L64.9,804.8 L65.5,805.3 L66.1,807.4 L66.7,809.1 L67.3,809.1 L67.9,806.5 L68.5,805.9 L69.1,807.4 L69.7,803.0 L70.3,805.4 L70.9,804.8 L71.5,804.1 L72.1,808.9 L72.7,803.1 L73.3,809.0 L73.9,804.9 L74.5,809.3 L75.1,800.4 L75.7,810.9 L76.3,800.8 L76.9,811.0 L77.5,804.0 L78.1,808.8 L78.7,804.7 L79.3,806.5 L79.9,803.8 L80.5,804.9 L81.1,807.5 L81.7,804.5 L82.3,803.1 L82.9,805.5 L83.5,808.8 L84.1,807.2 L84.7,806.4 L85.3,809.0 L85.9,806.3 L86.5,808.3 L87.1,804.6 L87.7,804.8 L88.3,806.1 L88.9,808.3 L89.5,805.4 L90.1,807.1 L90.7,807.2 L91.3,803.9 L91.9,807.3 L92.5,808.4 L93.1,804.4 L93.7,802.6 L94.3,802.9 L94.9,804.4 L95.5,802.0 L96.1,806.4 L96.7,801.7 L97.3,801.8 L97.9,806.2 L98.5,804.8 L99.1,807.8 L99.7,807.2 L100.3,804.1 L100.9,807.0 L101.5,804.1 L102.1,803.2 L102.7,803.0 L103.3,800.5 L103.9,797.5 L104.5,799.1 L105.1,795.7 L105.7,792.7 L106.3,794.1 L106.9,792.6 L107.5,794.3 L108.1,788.3 L108.7,787.3 L109.3,789.2 L109.9,787.5 L110.5,790.3 L111.1,793.4 L111.7,796.8 L112.3,800.0 L112.9,799.6 L113.5,800.1 L114.1,802.0 L114.7,803.1 L115.3,803.7 L115.9,801.9 L116.5,806.3 L117.1,803.7 L117.7,802.6 L118.3,800.9 L118.9,799.9 L119.5,800.2 L120.1,798.8 L120.7,797.1 L121.3,789.3 L121.9,786.0 L122.5,781.7 L123.1,778.1 L123.7,773.7 L124.3,765.3 L124.9,764.9 L125.5,763.6 L126.1,762.7 L126.7,771.8 L127.3,774.2 L127.9,776.1 L128.5,779.5 L129.1,785.9 L129.7,787.1 L130.3,790.6 L130.9,792.7 L131.5,792.7 L132.1,794.5 L132.7,794.0 L133.3,796.1 L133.9,795.4 L134.5,800.4 L135.1,798.8 L135.7,802.7 L136.3,803.7 L136.9,803.7 L137.5,800.2 L138.1,801.5 L138.7,805.2 L139.3,800.1 L139.9,801.0 L140.5,803.3 L141.1,803.6 L141.7,803.4 L142.3,805.8 L142.9,799.4 L143.5,804.7 L144.1,804.3 L144.7,804.7 L145.3,805.4 L145.9,805.9 L146.5,803.8 L147.1,806.7 L147.7,806.5 L148.3,806.1 L148.9,803.2 L149.5,806.6 L150.1,806.6 L150.7,804.3 L151.3,807.0 L151.9,805.6 L152.5,803.4 L153.1,804.3 L153.7,805.1 L154.3,802.4 L154.9,806.0 L155.5,806.3 L156.1,808.5 L156.7,805.2 L157.3,804.2 L157.9,806.6 L158.5,801.9 L159.1,803.5 L159.7,803.7 L160.3,807.6 L160.9,804.9 L161.5,804.8 L162.1,809.2 L162.7,805.6 L163.3,806.0 L163.9,808.7 L164.5,804.7 L165.1,801.8 L165.7,804.2 L166.3,807.1 L166.9,806.1 L167.5,803.6 L168.1,807.1 L168.7,805.0 L169.3,805.6 L169.9,805.3 L170.5,802.6 L171.1,808.4 L171.7,803.5 L172.3,805.2 L172.9,805.8 L173.5,808.7 L174.1,805.1 L174.7,806.4 L175.3,811.0 L175.9,808.2 L176.5,807.9 L177.1,807.5 L177.7,806.8 L178.3,807.2 L178.9,802.8 L179.5,803.7 L180.1,805.8 L180.7,803.1 L181.3,801.8 L181.9,804.8 L182.5,808.1 L183.1,805.0 L183.7,803.0 L184.3,807.4 L184.9,805.6 L185.5,803.9 L186.1,803.4 L186.7,804.0 L187.3,804.9 L187.9,805.8 L188.5,806.5 L189.1,803.7 L189.7,803.8 L190.3,806.3 L190.9,806.7 L191.5,803.1 L192.1,803.5 L192.7,806.7 L193.3,808.3 L193.9,805.0 L194.5,803.7 L195.1,803.3 L195.7,803.5 L196.3,807.7 L196.9,804.7 L197.5,805.3 L198.1,805.8 L198.7,799.3 L199.3,803.7 L199.9,802.5 L200.5,802.4 L201.1,798.9 L201.7,795.7 L202.3,795.1 L202.9,790.5 L203.5,786.5 L204.1,782.6 L204.7,776.7 L205.3,772.6 L205.9,772.3 L206.5,773.9 L207.1,779.4 L207.7,779.0 L208.3,783.3 L208.9,784.8 L209.5,792.3 L210.1,796.7 L210.7,800.2 L211.3,799.6 L211.9,799.8 L212.5,800.0 L213.1,803.7 L213.7,801.8 L214.3,798.6 L214.9,799.5 L215.5,798.8 L216.1,796.5 L216.7,794.9 L217.3,789.1 L217.9,780.0 L218.5,767.1 L219.1,756.0 L219.7,746.7 L220.3,735.0 L220.9,728.7 L221.5,726.3 L222.1,733.4 L222.7,738.5 L223.3,745.7 L223.9,758.1 L224.5,763.6 L225.1,769.4 L225.7,774.5 L226.3,778.7 L226.9,782.2 L227.5,784.3 L228.1,786.1 L228.7,789.9 L229.3,788.3 L229.9,794.6 L230.5,795.3 L231.1,795.4 L231.7,798.3 L232.3,800.3 L232.9,800.7 L233.5,796.8 L234.1,800.6 L234.7,802.4 L235.3,796.9 L235.9,800.1 L236.5,800.7 L237.1,803.1 L237.7,801.2 L238.3,802.9 L238.9,801.7 L239.5,802.4 L240.1,803.0 L240.7,802.4 L241.3,804.6 L241.9,803.9 L242.5,804.7 L243.1,802.7 L243.7,802.2 L244.3,802.2 L244.9,807.2 L245.5,800.7 L246.1,804.3 L246.7,804.2 L247.3,804.2 L247.9,804.3 L248.5,801.9 L249.1,804.0 L249.7,803.8 L250.3,802.7 L250.9,802.1 L251.5,806.3 L252.1,806.8 L252.7,808.1 L253.3,808.1 L253.9,804.1 L254.5,804.5 L255.1,804.8 L255.7,804.1 L256.3,804.2 L256.9,802.6 L257.5,801.7 L258.1,806.3 L258.7,802.2 L259.3,803.0 L259.9,806.3 L260.5,804.6 L261.1,805.7 L261.7,808.0 L262.3,804.9 L262.9,807.9 L263.5,804.9 L264.1,806.9 L264.7,805.6 L265.3,803.5 L265.9,804.8 L266.5,806.5 L267.1,804.6 L267.7,803.8 L268.3,803.3 L268.9,806.5 L269.5,803.0 L270.1,805.3 L270.7,806.0 L271.3,802.9 L271.9,803.9 L272.5,803.8 L273.1,804.7 L273.7,808.2 L274.3,804.1 L274.9,803.9 L275.5,805.1 L276.1,801.8 L276.7,804.6 L277.3,801.8 L277.9,802.7 L278.5,806.0 L279.1,806.3 L279.7,805.3 L280.3,804.8 L280.9,803.4 L281.5,805.7 L282.1,806.5 L282.7,800.7 L283.3,804.4 L283.9,803.9 L284.5,801.2 L285.1,804.1 L285.7,808.4 L286.3,803.3 L286.9,805.2 L287.5,802.2 L288.1,807.2 L288.7,803.5 L289.3,802.2 L289.9,801.0 L290.5,801.7 L291.1,801.6 L291.7,803.1 L292.3,803.0 L292.9,804.6 L293.5,800.8 L294.1,799.5 L294.7,800.9 L295.3,803.2 L295.9,803.7 L296.5,801.6 L297.1,797.0 L297.7,798.4 L298.3,798.7 L298.9,795.0 L299.5,789.1 L300.1,786.6 L300.7,779.8 L301.3,772.6 L301.9,766.1 L302.5,755.7 L303.1,759.0 L303.7,759.2 L304.3,762.4 L304.9,770.6 L305.5,777.2 L306.1,782.1 L306.7,786.3 L307.3,790.1 L307.9,793.1 L308.5,794.8 L309.1,795.1 L309.7,792.9 L310.3,797.2 L310.9,795.1 L311.5,796.8 L312.1,797.8 L312.7,797.2 L313.3,793.1 L313.9,793.6 L314.5,786.7 L315.1,782.8 L315.7,772.1 L316.3,768.4 L316.9,755.2 L317.5,746.0 L318.1,741.2 L318.7,742.7 L319.3,744.5 L319.9,751.2 L320.5,759.5 L321.1,765.4 L321.7,774.4 L322.3,780.0 L322.9,783.5 L323.5,789.5 L324.1,793.0 L324.7,794.2 L325.3,797.1 L325.9,801.7 L326.5,799.4 L327.1,799.5 L327.7,801.9 L328.3,803.7 L328.9,800.0 L329.5,802.4 L330.1,800.4 L330.7,801.0 L331.3,799.3 L331.9,801.3 L332.5,800.9 L333.1,800.3 L333.7,803.5 L334.3,801.1 L334.9,801.1 L335.5,806.6 L336.1,805.4 L336.7,803.3 L337.3,800.6 L337.9,804.4 L338.5,806.2 L339.1,806.8 L339.7,803.5 L340.3,803.8 L340.9,805.4 L341.5,803.8 L342.1,805.0 L342.7,802.4 L343.3,807.0 L343.9,805.4 L344.5,802.5 L345.1,805.7 L345.7,806.2 L346.3,805.2 L346.9,801.4 L347.5,804.3 L348.1,802.2 L348.7,806.5 L349.3,805.2 L349.9,803.6 L350.5,804.4 L351.1,805.9 L351.7,809.0 L352.3,804.0 L352.9,803.6 L353.5,804.1 L354.1,808.1 L354.7,807.6 L355.3,806.1 L355.9,806.9 L356.5,803.2 L357.1,807.1 L357.7,805.7 L358.3,807.1 L358.9,808.2 L359.5,803.3 L360.1,804.8 L360.7,806.4 L361.3,805.1 L361.9,809.0 L362.5,802.3 L363.1,807.0 L363.7,808.6 L364.3,807.0 L364.9,804.7 L365.5,805.1 L366.1,803.9 L366.7,803.8 L367.3,805.0 L367.9,803.2 L368.5,808.3 L369.1,804.2 L369.7,804.2 L370.3,804.4 L370.9,805.2 L371.5,805.9 L372.1,806.0 L372.7,808.0 L373.3,805.8 L373.9,802.9 L374.5,802.2 L375.1,805.6 L375.7,805.7 L376.3,805.6 L376.9,804.9 L377.5,804.6 L378.1,803.7 L378.7,801.9 L379.3,808.1 L379.9,806.3 L380.5,805.2 L381.1,804.4 L381.7,803.4 L382.3,800.9 L382.9,805.7 L383.5,802.7 L384.1,803.9 L384.7,803.5 L385.3,802.9 L385.9,801.8 L386.5,803.0 L387.1,805.0 L387.7,802.0 L388.3,801.7 L388.9,805.2 L389.5,801.3 L390.1,801.9 L390.7,801.8 L391.3,800.9 L391.9,797.5 L392.5,803.0 L393.1,798.9 L393.7,801.5 L394.3,796.5 L394.9,792.3 L395.5,793.5 L396.1,782.9 L396.7,776.9 L397.3,769.1 L397.9,759.3 L398.5,749.6 L399.1,743.0 L399.7,742.0 L400.3,744.2 L400.9,752.3 L401.5,764.2 L402.1,768.9 L402.7,774.6 L403.3,780.5 L403.9,786.8 L404.5,792.6 L405.1,791.6 L405.7,790.4 L406.3,788.4 L406.9,787.7 L407.5,780.2 L408.1,776.5 L408.7,779.4 L409.3,779.8 L409.9,783.0 L410.5,783.6 L411.1,782.5 L411.7,786.9 L412.3,776.1 L412.9,770.5 L413.5,766.0 L414.1,751.2 L414.7,743.7 L415.3,740.3 L415.9,741.7 L416.5,749.8 L417.1,755.8 L417.7,767.3 L418.3,774.0 L418.9,779.1 L419.5,787.1 L420.1,791.6 L420.7,792.4 L421.3,793.7 L421.9,795.1 L422.5,798.4 L423.1,796.3 L423.7,796.5 L424.3,800.7 L424.9,799.4 L425.5,804.2 L426.1,801.6 L426.7,803.5 L427.3,801.7 L427.9,803.3 L428.5,806.6 L429.1,801.5 L429.7,804.6 L430.3,800.8 L430.9,800.5 L431.5,802.2 L432.1,803.5 L432.7,803.1 L433.3,806.2 L433.9,803.6 L434.5,802.1 L435.1,802.6 L435.7,805.9 L436.3,801.3 L436.9,803.2 L437.5,805.9 L438.1,803.4 L438.7,806.0 L439.3,805.2 L439.9,804.3 L440.5,801.1 L441.1,800.0 L441.7,807.3 L442.3,804.7 L442.9,804.9 L443.5,803.5 L444.1,804.1 L444.7,805.9 L445.3,804.2 L445.9,806.0 L446.5,806.3 L447.1,803.9 L447.7,804.6 L448.3,806.0 L448.9,803.8 L449.5,805.7 L450.1,806.4 L450.7,805.2 L451.3,803.9 L451.9,806.1 L452.5,802.4 L453.1,805.5 L453.7,804.5 L454.3,803.6 L454.9,805.1 L455.5,806.2 L456.1,805.5 L456.7,803.4 L457.3,802.8 L457.9,803.9 L458.5,805.9 L459.1,806.8 L459.7,806.1 L460.3,805.9 L460.9,804.6 L461.5,805.1 L462.1,806.4 L462.7,803.8 L463.3,806.3 L463.9,804.9 L464.5,806.4 L465.1,803.1 L465.7,804.2 L466.3,804.6 L466.9,803.0 L467.5,803.2 L468.1,807.2 L468.7,804.5 L469.3,806.7 L469.9,805.9 L470.5,805.6 L471.1,807.4 L471.7,807.0 L472.3,804.6 L472.9,804.5 L473.5,803.7 L474.1,804.9 L474.7,805.3 L475.3,805.1 L475.9,805.1 L476.5,805.8 L477.1,804.2 L477.7,806.0 L478.3,806.1 L478.9,806.9 L479.5,803.9 L480.1,805.3 L480.7,804.4 L481.3,803.7 L481.9,805.4 L482.5,803.3 L483.1,803.4 L483.7,803.4 L484.3,806.6 L484.9,801.2 L485.5,801.9 L486.1,801.5 L486.7,799.2 L487.3,803.8 L487.9,798.2 L488.5,801.6 L489.1,799.1 L489.7,798.0 L490.3,801.1 L490.9,797.8 L491.5,797.9 L492.1,794.0 L492.7,794.4 L493.3,784.7 L493.9,781.3 L494.5,775.5 L495.1,768.6 L495.7,756.9 L496.3,754.6 L496.9,751.2 L497.5,757.9 L498.1,760.9 L498.7,772.3 L499.3,775.1 L499.9,782.9 L500.5,786.5 L501.1,784.5 L501.7,784.7 L502.3,785.8 L502.9,784.9 L503.5,781.8 L504.1,788.0 L504.7,788.1 L505.3,791.2 L505.9,791.7 L506.5,792.8 L507.1,792.7 L507.7,793.1 L508.3,787.6 L508.9,782.8 L509.5,778.3 L510.1,766.9 L510.7,762.4 L511.3,754.0 L511.9,746.3 L512.5,751.1 L513.1,755.8 L513.7,765.6 L514.3,771.0 L514.9,779.3 L515.5,784.5 L516.1,792.0 L516.7,791.7 L517.3,795.5 L517.9,796.6 L518.5,800.1 L519.1,803.4 L519.7,800.3 L520.3,801.4 L520.9,802.6 L521.5,799.2 L522.1,801.9 L522.7,802.4 L523.3,802.1 L523.9,802.5 L524.5,802.5 L525.1,802.0 L525.7,803.4 L526.3,804.5 L526.9,805.3 L527.5,803.5 L528.1,803.2 L528.7,802.7 L529.3,805.6 L529.9,807.0 L530.5,806.9 L531.1,801.9 L531.7,803.5 L532.3,804.6 L532.9,805.2 L533.5,800.8 L534.1,803.3 L534.7,803.5 L535.3,805.7 L535.9,802.8 L536.5,805.6 L537.1,806.3 L537.7,802.5 L538.3,804.4 L538.9,803.8 L539.5,807.6 L540.1,805.7 L540.7,806.6 L541.3,804.7 L541.9,805.3 L542.5,805.2 L543.1,806.5 L543.7,802.7 L544.3,807.5 L544.9,804.4 L545.5,805.3 L546.1,803.5 L546.7,807.0 L547.3,803.5 L547.9,806.8 L548.5,804.9 L549.1,805.7 L549.7,801.1 L550.3,807.7 L550.9,806.5 L551.5,808.6 L552.1,807.3 L552.7,805.8 L553.3,806.1 L553.9,806.9 L554.5,806.7 L555.1,805.8 L555.7,805.2 L556.3,802.5 L556.9,804.7 L557.5,805.5 L558.1,806.0 L558.7,804.2 L559.3,803.0 L559.9,805.8 L560.5,803.6 L561.1,804.4 L561.7,809.1 L562.3,801.8 L562.9,803.6 L563.5,807.7 L564.1,808.6 L564.7,804.8 L565.3,806.0 L565.9,804.2 L566.5,805.7 L567.1,802.8 L567.7,805.9 L568.3,804.1 L568.9,803.6 L569.5,805.3 L570.1,803.1 L570.7,804.4 L571.3,804.6 L571.9,804.9 L572.5,808.7 L573.1,806.2 L573.7,801.0 L574.3,804.8 L574.9,805.5 L575.5,804.3 L576.1,804.2 L576.7,800.0 L577.3,805.6 L577.9,804.7 L578.5,802.1 L579.1,806.3 L579.7,805.8 L580.3,805.0 L580.9,803.7 L581.5,800.4 L582.1,799.5 L582.7,800.7 L583.3,797.7 L583.9,804.1 L584.5,798.3 L585.1,800.8 L585.7,798.0 L586.3,798.4 L586.9,799.1 L587.5,792.8 L588.1,790.0 L588.7,789.0 L589.3,787.0 L589.9,776.8 L590.5,778.6 L591.1,767.1 L591.7,761.6 L592.3,754.4 L592.9,746.2 L593.5,746.8 L594.1,746.1 L594.7,752.8 L595.3,758.0 L595.9,766.5 L596.5,773.9 L597.1,781.6 L597.7,786.6 L598.3,791.8 L598.9,791.8 L599.5,792.9 L600.1,796.4 L600.7,794.9 L601.3,797.1 L601.9,795.5 L602.5,796.7 L603.1,793.5 L603.7,789.7 L604.3,788.3 L604.9,787.9 L605.5,778.4 L606.1,773.6 L606.7,763.2 L607.3,756.7 L607.9,750.9 L608.5,750.5 L609.1,752.0 L609.7,759.5 L610.3,765.7 L610.9,772.4 L611.5,783.7 L612.1,787.5 L612.7,790.1 L613.3,796.6 L613.9,797.3 L614.5,797.7 L615.1,799.1 L615.7,799.4 L616.3,799.6 L616.9,799.3 L617.5,802.4 L618.1,801.3 L618.7,801.7 L619.3,804.8 L619.9,803.6 L620.5,801.8 L621.1,802.7 L621.7,802.2 L622.3,803.6 L622.9,803.8 L623.5,802.2 L624.1,807.4 L624.7,807.0 L625.3,804.1 L625.9,803.8 L626.5,803.2 L627.1,803.2 L627.7,804.1 L628.3,806.6 L628.9,803.7 L629.5,804.3 L630.1,806.5 L630.7,807.8 L631.3,805.6 L631.9,803.7 L632.5,804.9 L633.1,802.9 L633.7,805.6 L634.3,806.3 L634.9,806.1 L635.5,805.0 L636.1,804.6 L636.7,803.5 L637.3,805.3 L637.9,807.2 L638.5,806.6 L639.1,804.7 L639.7,805.4 L640.3,804.9 L640.9,806.2 L641.5,806.0 L642.1,806.1 L642.7,806.3 L643.3,805.0 L643.9,802.3 L644.5,805.3 L645.1,805.0 L645.7,808.6 L646.3,804.4 L646.9,805.7 L647.5,802.9 L648.1,804.3 L648.7,802.7 L649.3,806.9 L649.9,804.0 L650.5,803.6 L651.1,805.9 L651.7,803.1 L652.3,807.6 L652.9,804.7 L653.5,805.9 L654.1,803.7 L654.7,808.6 L655.3,803.6 L655.9,802.1 L656.5,806.9 L657.1,803.4 L657.7,806.5 L658.3,803.4 L658.9,802.9 L659.5,807.0 L660.1,801.9 L660.7,805.0 L661.3,804.7 L661.9,803.4 L662.5,803.0 L663.1,804.5 L663.7,803.4 L664.3,803.3 L664.9,806.4 L665.5,803.9 L666.1,803.9 L666.7,804.2 L667.3,802.9 L667.9,805.0 L668.5,807.1 L669.1,802.8 L669.7,803.1 L670.3,803.7 L670.9,804.4 L671.5,799.5 L672.1,803.1 L672.7,805.0 L673.3,802.4 L673.9,801.9 L674.5,805.0 L675.1,801.2 L675.7,805.7 L676.3,802.5 L676.9,799.9 L677.5,799.1 L678.1,799.9 L678.7,798.7 L679.3,801.0 L679.9,798.8 L680.5,796.9 L681.1,800.3 L681.7,795.7 L682.3,793.8 L682.9,791.4 L683.5,790.1 L684.1,787.4 L684.7,784.8 L685.3,784.3 L685.9,779.9 L686.5,774.1 L687.1,769.2 L687.7,759.1 L688.3,751.9 L688.9,749.2 L689.5,751.2 L690.1,753.8 L690.7,762.5 L691.3,770.0 L691.9,776.9 L692.5,787.8 L693.1,792.6 L693.7,795.0 L694.3,793.3 L694.9,799.2 L695.5,800.1 L696.1,799.7 L696.7,803.5 L697.3,806.6 L697.9,804.9 L698.5,804.5 L699.1,799.3 L699.7,802.1 L700.3,800.9 L700.9,799.2 L701.5,796.9 L702.1,793.8 L702.7,790.2 L703.3,784.9 L703.9,783.6 L704.5,784.4 L705.1,779.9 L705.7,781.5 L706.3,785.3 L706.9,787.3 L707.5,792.1 L708.1,790.2 L708.7,795.0 L709.3,798.8 L709.9,802.6 L710.5,801.4 L711.1,802.4 L711.7,804.0 L712.3,805.0 L712.9,801.3 L713.5,805.7 L714.1,803.6 L714.7,803.1 L715.3,807.3 L715.9,805.0 L716.5,803.7 L717.1,805.4 L717.7,808.2 L718.3,804.5 L718.9,802.1 L719.5,804.8 L720.1,805.1 L720.7,807.0 L721.3,806.1 L721.9,805.0 L722.5,808.1 L723.1,807.4 L723.7,805.7 L724.3,805.9 L724.9,805.7 L725.5,806.0 L726.1,803.5 L726.7,806.1 L727.3,806.0 L727.9,807.4 L728.5,807.4 L729.1,806.2 L729.7,801.5 L730.3,804.0 L730.9,808.2 L731.5,803.2 L732.1,806.0 L732.7,808.2 L733.3,805.5 L733.9,807.7 L734.5,807.2 L735.1,807.7 L735.7,806.3 L736.3,809.6 L736.9,804.4 L737.5,803.1 L738.1,806.3 L738.7,805.9 L739.3,805.3 L739.9,806.4 L740.5,806.5 L741.1,804.8 L741.7,804.3 L742.3,806.7 L742.9,804.9 L743.5,805.5 L744.1,807.1 L744.7,806.2 L745.3,809.4 L745.9,808.1 L746.5,805.6 L747.1,805.1 L747.7,804.2 L748.3,803.5 L748.9,808.0 L749.5,805.6 L750.1,809.0 L750.7,806.2 L751.3,807.1 L751.9,805.4 L752.5,806.4 L753.1,806.1 L753.7,807.1 L754.3,806.2 L754.9,803.9 L755.5,804.8 L756.1,806.1 L756.7,809.0 L757.3,809.2 L757.9,806.2 L758.5,805.5 L759.1,805.2 L759.7,805.7 L760.3,807.5 L760.9,809.1 L761.5,804.7 L762.1,805.2 L762.7,804.1 L763.3,809.0 L763.9,805.1 L764.5,805.0 L765.1,808.0 L765.7,807.9 L766.3,808.0 L766.9,807.6 L767.5,806.4 L768.1,806.9 L768.7,803.9 L769.3,805.5 L769.9,807.2 L770.5,805.8 L771.1,807.4 L771.7,810.1 L772.3,805.7 L772.9,807.2 L773.5,804.0 L774.1,806.4 L774.7,803.8 L775.3,804.8 L775.9,808.8 L776.5,803.3 L777.1,806.9 L777.7,806.3 L778.3,808.2 L778.9,807.2 L779.5,801.6 L780.1,805.9 L780.7,812.4 L781.3,803.1 L781.9,805.8 L782.5,807.3 L783.1,805.0 L783.7,805.6 L784.3,807.4 L784.9,803.5 L785.5,805.2 L786.1,804.2 L786.7,805.8 L787.3,806.3 L787.9,805.9 L788.5,807.9 L789.1,807.7"/>
<path stroke="#2d00aa" d="M42.7,862.6 L43.3,860.6 L43.9,859.9 L44.5,859.9 L45.1,858.7 L45.7,862.2 L46.3,860.7 L46.9,862.2 L47.5,863.9 L48.1,862.7 L48.7,861.4 L49.3,863.1 L49.9,861.9 L50.5,859.8 L51.1,860.7 L51.7,860.7 L52.3,861.0 L52.9,861.9 L53.5,864.6 L54.1,860.0 L54.7,864.0 L55.3,861.2 L55.9,861.8 L56.5,861.4 L57.1,861.2 L57.7,862.1 L58.3,860.1 L58.9,863.7 L59.5,860.3 L60.1,864.3 L60.7,859.7 L61.3,862.4 L61.9,861.0 L62.5,859.1 L63.1,865.1 L63.7,862.1 L64.3,860.6 L64.9,860.1 L65.5,859.4 L66.1,860.6 L66.7,860.7 L67.3,861.6 L67.9,860.8 L68.5,862.4 L69.1,851.1 L69.7,860.7 L70.3,859.0 L70.9,861.7 L71.5,859.3 L72.1,863.2 L72.7,861.2 L73.3,860.7 L73.9,862.4 L74.5,864.5 L75.1,863.1 L75.7,860.6 L76.3,861.8 L76.9,862.1 L77.5,860.3 L78.1,863.2 L78.7,857.8 L79.3,861.4 L79.9,862.0 L80.5,858.2 L81.1,863.2 L81.7,862.2 L82.3,861.6 L82.9,863.0 L83.5,862.0 L84.1,860.5 L84.7,861.1 L85.3,861.5 L85.9,859.8 L86.5,858.3 L87.1,858.8 L87.7,864.7 L88.3,859.1 L88.9,860.0 L89.5,860.6 L90.1,862.9 L90.7,862.0 L91.3,861.6 L91.9,863.4 L92.5,859.2 L93.1,859.7 L93.7,861.1 L94.3,862.6 L94.9,858.8 L95.5,859.9 L96.1,859.2 L96.7,861.5 L97.3,856.9 L97.9,860.8 L98.5,857.3 L99.1,863.5 L99.7,859.4 L100.3,859.2 L100.9,862.7 L101.5,858.5 L102.1,858.0 L102.7,856.4 L103.3,853.0 L103.9,850.9 L104.5,845.5 L105.1,842.4 L105.7,840.2 L106.3,840.4 L106.9,839.3 L107.5,836.4 L108.1,841.1 L108.7,842.5 L109.3,845.7 L109.9,846.3 L110.5,848.1 L111.1,850.4 L111.7,852.9 L112.3,853.9 L112.9,856.6 L113.5,856.2 L114.1,859.4 L114.7,858.1 L115.3,857.1 L115.9,860.1 L116.5,857.1 L117.1,857.5 L117.7,859.4 L118.3,859.2 L118.9,857.7 L119.5,854.8 L120.1,849.9 L120.7,846.6 L121.3,840.9 L121.9,834.6 L122.5,834.1 L123.1,831.8 L123.7,826.8 L124.3,825.1 L124.9,822.2 L125.5,823.1 L126.1,822.6 L126.7,830.4 L127.3,832.1 L127.9,835.7 L128.5,838.8 L129.1,842.5 L129.7,840.7 L130.3,846.6 L130.9,848.1 L131.5,848.5 L132.1,850.6 L132.7,849.2 L133.3,855.0 L133.9,854.2 L134.5,855.4 L135.1,855.4 L135.7,854.3 L136.3,857.2 L136.9,859.8 L137.5,856.9 L138.1,859.1 L138.7,856.7 L139.3,857.6 L139.9,854.8 L140.5,857.5 L141.1,859.9 L141.7,858.2 L142.3,857.2 L142.9,858.9 L143.5,859.3 L144.1,859.8 L144.7,860.1 L145.3,861.1 L145.9,857.7 L146.5,859.1 L147.1,862.2 L147.7,858.2 L148.3,860.0 L148.9,859.7 L149.5,859.9 L150.1,858.3 L150.7,863.8 L151.3,860.3 L151.9,859.4 L152.5,860.6 L153.1,863.1 L153.7,862.5 L154.3,860.1 L154.9,858.2 L155.5,863.7 L156.1,861.5 L156.7,860.1 L157.3,860.3 L157.9,859.8 L158.5,858.8 L159.1,859.4 L159.7,863.1 L160.3,861.2 L160.9,862.5 L161.5,860.8 L162.1,858.3 L162.7,859.1 L163.3,857.0 L163.9,858.6 L164.5,859.0 L165.1,859.2 L165.7,861.9 L166.3,861.1 L166.9,859.9 L167.5,859.6 L168.1,859.9 L168.7,862.4 L169.3,862.6 L169.9,862.7 L170.5,857.9 L171.1,861.1 L171.7,859.5 L172.3,861.0 L172.9,861.2 L173.5,861.3 L174.1,861.5 L174.7,860.8 L175.3,859.6 L175.9,863.0 L176.5,860.9 L177.1,861.4 L177.7,861.6 L178.3,859.9 L178.9,858.3 L179.5,863.1 L180.1,860.7 L180.7,859.2 L181.3,859.5 L181.9,863.5 L182.5,860.1 L183.1,861.5 L183.7,861.6 L184.3,859.6 L184.9,862.5 L185.5,860.4 L186.1,859.4 L186.7,861.8 L187.3,862.4 L187.9,857.3 L188.5,862.3 L189.1,858.6 L189.7,861.8 L190.3,860.3 L190.9,861.4 L191.5,860.3 L192.1,860.2 L192.7,862.2 L193.3,860.6 L193.9,858.8 L194.5,861.5 L195.1,863.7 L195.7,859.5 L196.3,861.2 L196.9,859.0 L197.5,860.0 L198.1,860.1 L198.7,858.6 L199.3,856.6 L199.9,855.0 L200.5,855.3 L201.1,852.2 L201.7,847.9 L202.3,839.1 L202.9,835.2 L203.5,831.6 L204.1,826.1 L204.7,820.9 L205.3,824.7 L205.9,825.1 L206.5,826.2 L207.1,830.1 L207.7,834.4 L208.3,841.2 L208.9,843.6 L209.5,850.9 L210.1,850.5 L210.7,853.0 L211.3,854.6 L211.9,852.9 L212.5,855.7 L213.1,856.0 L213.7,854.5 L214.3,852.3 L214.9,855.6 L215.5,851.4 L216.1,850.3 L216.7,848.3 L217.3,840.8 L217.9,831.4 L218.5,822.6 L219.1,811.7 L219.7,799.7 L220.3,790.2 L220.9,783.9 L221.5,784.1 L222.1,785.1 L222.7,796.4 L223.3,800.7 L223.9,810.6 L224.5,815.7 L225.1,825.4 L225.7,832.9 L226.3,832.8 L226.9,835.7 L227.5,843.4 L228.1,842.3 L228.7,844.6 L229.3,848.4 L229.9,847.3 L230.5,851.0 L231.1,849.1 L231.7,849.7 L232.3,853.2 L232.9,853.8 L233.5,853.7 L234.1,857.5 L234.7,856.0 L235.3,855.4 L235.9,852.2 L236.5,854.2 L237.1,856.1 L237.7,858.2 L238.3,856.5 L238.9,857.2 L239.5,859.7 L240.1,858.2 L240.7,860.1 L241.3,858.9 L241.9,863.6 L242.5,856.1 L243.1,859.4 L243.7,860.5 L244.3,859.9 L244.9,861.6 L245.5,859.3 L246.1,857.0 L246.7,858.8 L247.3,859.9 L247.9,859.6 L248.5,859.3 L249.1,860.2 L249.7,860.6 L250.3,859.7 L250.9,859.3 L251.5,860.7 L252.1,859.4 L252.7,861.8 L253.3,862.8 L253.9,863.1 L254.5,859.5 L255.1,861.3 L255.7,860.2 L256.3,861.4 L256.9,860.8 L257.5,859.9 L258.1,862.5 L258.7,861.3 L259.3,857.9 L259.9,857.1 L260.5,860.0 L261.1,860.0 L261.7,861.3 L262.3,862.1 L262.9,859.1 L263.5,858.4 L264.1,859.6 L264.7,859.5 L265.3,861.5 L265.9,858.5 L266.5,859.9 L267.1,861.4 L267.7,858.6 L268.3,861.7 L268.9,861.9 L269.5,860.1 L270.1,862.0 L270.7,862.0 L271.3,859.3 L271.9,860.0 L272.5,861.1 L273.1,859.3 L273.7,860.0 L274.3,859.0 L274.9,858.9 L275.5,858.9 L276.1,862.0 L276.7,858.8 L277.3,860.1 L277.9,859.4 L278.5,860.0 L279.1,858.8 L279.7,860.3 L280.3,860.8 L280.9,859.1 L281.5,860.5 L282.1,861.8 L282.7,860.2 L283.3,860.3 L283.9,860.4 L284.5,860.0 L285.1,860.8 L285.7,860.8 L286.3,854.9 L286.9,860.9 L287.5,858.8 L288.1,859.0 L288.7,860.2 L289.3,859.9 L289.9,860.6 L290.5,860.7 L291.1,855.9 L291.7,860.1 L292.3,859.6 L292.9,856.4 L293.5,859.8 L294.1,855.1 L294.7,857.0 L295.3,854.2 L295.9,857.2 L296.5,856.0 L297.1,852.4 L297.7,852.4 L298.3,850.2 L298.9,843.6 L299.5,839.9 L300.1,834.6 L300.7,825.7 L301.3,817.6 L301.9,813.1 L302.5,806.7 L303.1,810.9 L303.7,815.8 L304.3,820.9 L304.9,825.4 L305.5,833.4 L306.1,837.9 L306.7,841.5 L307.3,845.2 L307.9,847.7 L308.5,853.5 L309.1,851.2 L309.7,851.1 L310.3,849.7 L310.9,852.9 L311.5,851.2 L312.1,851.2 L312.7,849.6 L313.3,845.0 L313.9,842.7 L314.5,838.3 L315.1,836.9 L315.7,829.3 L316.3,818.1 L316.9,811.6 L317.5,799.8 L318.1,790.2 L318.7,796.6 L319.3,796.3 L319.9,803.6 L320.5,810.4 L321.1,819.3 L321.7,829.0 L322.3,833.5 L322.9,839.4 L323.5,844.5 L324.1,846.0 L324.7,848.0 L325.3,851.9 L325.9,850.9 L326.5,852.9 L327.1,853.1 L327.7,854.0 L328.3,856.2 L328.9,851.9 L329.5,855.2 L330.1,855.0 L330.7,857.4 L331.3,857.1 L331.9,856.1 L332.5,859.0 L333.1,857.4 L333.7,855.6 L334.3,858.7 L334.9,858.2 L335.5,860.5 L336.1,858.5 L336.7,858.3 L337.3,859.0 L337.9,858.2 L338.5,859.7 L339.1,859.6 L339.7,857.6 L340.3,858.0 L340.9,859.0 L341.5,856.7 L342.1,859.7 L342.7,859.8 L343.3,858.6 L343.9,856.1 L344.5,860.3 L345.1,860.3 L345.7,860.3 L346.3,860.8 L346.9,861.9 L347.5,859.0 L348.1,858.5 L348.7,859.2 L349.3,859.5 L349.9,860.8 L350.5,859.1 L351.1,859.7 L351.7,861.2 L352.3,859.9 L352.9,861.8 L353.5,860.7 L354.1,861.5 L354.7,859.1 L355.3,861.4 L355.9,859.6 L356.5,862.5 L357.1,860.0 L357.7,859.3 L358.3,860.5 L358.9,861.6 L359.5,861.4 L360.1,860.0 L360.7,860.4 L361.3,861.1 L361.9,862.6 L362.5,862.7 L363.1,861.1 L363.7,861.7 L364.3,860.0 L364.9,859.3 L365.5,860.3 L366.1,861.3 L366.7,860.8 L367.3,859.4 L367.9,862.9 L368.5,859.1 L369.1,859.1 L369.7,861.2 L370.3,860.1 L370.9,860.1 L371.5,858.3 L372.1,859.1 L372.7,861.2 L373.3,865.1 L373.9,856.8 L374.5,858.6 L375.1,860.7 L375.7,862.5 L376.3,860.7 L376.9,861.6 L377.5,857.5 L378.1,858.4 L378.7,862.4 L379.3,858.6 L379.9,860.2 L380.5,858.8 L381.1,860.4 L381.7,862.3 L382.3,861.6 L382.9,859.0 L383.5,857.5 L384.1,856.4 L384.7,856.3 L385.3,858.4 L385.9,857.7 L386.5,857.0 L387.1,857.8 L387.7,855.5 L388.3,857.9 L388.9,856.2 L389.5,856.2 L390.1,855.5 L390.7,853.1 L391.3,854.4 L391.9,852.9 L392.5,852.6 L393.1,851.4 L393.7,847.4 L394.3,847.3 L394.9,842.2 L395.5,834.4 L396.1,826.5 L396.7,816.9 L397.3,806.0 L397.9,796.8 L398.5,786.4 L399.1,785.2 L399.7,786.2 L400.3,795.0 L400.9,809.0 L401.5,814.8 L402.1,822.8 L402.7,831.4 L403.3,836.6 L403.9,840.7 L404.5,843.5 L405.1,848.0 L405.7,847.4 L406.3,846.5 L406.9,851.1 L407.5,848.1 L408.1,852.2 L408.7,847.2 L409.3,845.1 L409.9,844.6 L410.5,846.5 L411.1,838.3 L411.7,836.6 L412.3,828.7 L412.9,823.4 L413.5,813.1 L414.1,802.0 L414.7,791.6 L415.3,786.1 L415.9,790.1 L416.5,793.9 L417.1,802.4 L417.7,812.2 L418.3,823.9 L418.9,832.1 L419.5,835.4 L420.1,842.1 L420.7,846.9 L421.3,848.7 L421.9,851.3 L422.5,851.8 L423.1,853.7 L423.7,853.5 L424.3,854.7 L424.9,856.0 L425.5,856.9 L426.1,856.3 L426.7,855.6 L427.3,856.1 L427.9,857.8 L428.5,856.9 L429.1,854.4 L429.7,859.9 L430.3,857.6 L430.9,860.1 L431.5,857.3 L432.1,857.8 L432.7,857.9 L433.3,859.3 L433.9,859.7 L434.5,861.8 L435.1,859.8 L435.7,860.0 L436.3,861.0 L436.9,860.5 L437.5,857.1 L438.1,860.0 L438.7,860.7 L439.3,862.8 L439.9,859.8 L440.5,861.6 L441.1,858.0 L441.7,861.4 L442.3,861.3 L442.9,860.4 L443.5,861.7 L444.1,860.0 L444.7,858.7 L445.3,858.5 L445.9,859.4 L446.5,860.9 L447.1,857.5 L447.7,856.4 L448.3,858.9 L448.9,862.8 L449.5,859.6 L450.1,860.5 L450.7,859.9 L451.3,859.2 L451.9,858.6 L452.5,861.7 L453.1,859.8 L453.7,861.9 L454.3,860.1 L454.9,857.6 L455.5,860.2 L456.1,860.7 L456.7,858.2 L457.3,860.7 L457.9,861.8 L458.5,859.8 L459.1,861.9 L459.7,860.5 L460.3,861.0 L460.9,862.2 L461.5,857.2 L462.1,861.2 L462.7,858.3 L463.3,860.8 L463.9,859.2 L464.5,859.0 L465.1,857.1 L465.7,860.6 L466.3,861.0 L466.9,859.6 L467.5,860.5 L468.1,862.4 L468.7,858.8 L469.3,860.5 L469.9,860.9 L470.5,861.0 L471.1,858.9 L471.7,862.8 L472.3,859.6 L472.9,861.2 L473.5,859.1 L474.1,861.7 L474.7,856.1 L475.3,860.8 L475.9,860.4 L476.5,861.4 L477.1,858.1 L477.7,859.6 L478.3,861.9 L478.9,859.1 L479.5,859.2 L480.1,861.0 L480.7,858.3 L481.3,859.5 L481.9,858.7 L482.5,857.7 L483.1,859.6 L483.7,857.0 L484.3,859.5 L484.9,860.6 L485.5,858.5 L486.1,856.2 L486.7,856.8 L487.3,858.2 L487.9,853.9 L488.5,852.6 L489.1,855.8 L489.7,851.2 L490.3,852.3 L490.9,850.0 L491.5,845.4 L492.1,843.4 L492.7,843.9 L493.3,833.5 L493.9,828.6 L494.5,817.5 L495.1,809.1 L495.7,802.2 L496.3,798.5 L496.9,803.4 L497.5,810.8 L498.1,819.5 L498.7,826.9 L499.3,833.5 L499.9,836.6 L500.5,846.2 L501.1,848.9 L501.7,851.4 L502.3,853.2 L502.9,851.8 L503.5,853.6 L504.1,854.3 L504.7,850.6 L505.3,848.6 L505.9,849.8 L506.5,847.2 L507.1,846.0 L507.7,844.6 L508.3,838.1 L508.9,832.5 L509.5,825.9 L510.1,813.5 L510.7,804.8 L511.3,794.4 L511.9,790.3 L512.5,792.8 L513.1,798.5 L513.7,806.0 L514.3,816.1 L514.9,826.5 L515.5,832.9 L516.1,841.5 L516.7,844.4 L517.3,847.7 L517.9,855.0 L518.5,855.0 L519.1,853.7 L519.7,854.4 L520.3,853.7 L520.9,855.7 L521.5,857.1 L522.1,856.5 L522.7,858.7 L523.3,856.1 L523.9,855.2 L524.5,856.6 L525.1,859.2 L525.7,854.4 L526.3,859.9 L526.9,860.0 L527.5,857.2 L528.1,857.8 L528.7,859.7 L529.3,860.3 L529.9,858.7 L530.5,859.4 L531.1,859.2 L531.7,860.9 L532.3,861.6 L532.9,857.6 L533.5,858.4 L534.1,860.7 L534.7,857.7 L535.3,861.2 L535.9,862.5 L536.5,856.7 L537.1,858.5 L537.7,861.0 L538.3,860.9 L538.9,861.5 L539.5,861.6 L540.1,862.9 L540.7,860.9 L541.3,858.3 L541.9,858.8 L542.5,860.1 L543.1,861.8 L543.7,860.1 L544.3,860.5 L544.9,858.5 L545.5,857.2 L546.1,860.3 L546.7,861.6 L547.3,857.8 L547.9,862.6 L548.5,863.4 L549.1,859.3 L549.7,861.8 L550.3,859.7 L550.9,863.5 L551.5,861.0 L552.1,862.8 L552.7,861.4 L553.3,858.6 L553.9,859.6 L554.5,859.0 L555.1,858.6 L555.7,860.1 L556.3,862.0 L556.9,862.2 L557.5,859.4 L558.1,863.1 L558.7,858.3 L559.3,858.0 L559.9,858.3 L560.5,859.0 L561.1,856.2 L561.7,861.1 L562.3,859.0 L562.9,859.4 L563.5,861.6 L564.1,861.7 L564.7,861.1 L565.3,862.1 L565.9,861.9 L566.5,863.5 L567.1,859.4 L567.7,858.5 L568.3,859.5 L568.9,859.6 L569.5,858.0 L570.1,860.2 L570.7,857.6 L571.3,860.4 L571.9,861.0 L572.5,859.7 L573.1,863.3 L573.7,860.0 L574.3,858.0 L574.9,856.9 L575.5,860.0 L576.1,860.3 L576.7,856.2 L577.3,857.1 L577.9,855.1 L578.5,856.1 L579.1,856.4 L579.7,857.0 L580.3,858.8 L580.9,858.7 L581.5,857.4 L582.1,856.2 L582.7,857.0 L583.3,858.1 L583.9,851.9 L584.5,856.9 L585.1,853.4 L585.7,854.2 L586.3,851.3 L586.9,845.3 L587.5,845.0 L588.1,844.0 L588.7,836.5 L589.3,834.6 L589.9,824.7 L590.5,819.8 L591.1,813.1 L591.7,805.1 L592.3,801.1 L592.9,799.1 L593.5,798.9 L594.1,804.1 L594.7,811.3 L595.3,818.6 L595.9,826.5 L596.5,833.3 L597.1,839.7 L597.7,844.5 L598.3,845.1 L598.9,849.0 L599.5,848.8 L600.1,850.8 L600.7,849.8 L601.3,850.3 L601.9,848.5 L602.5,845.3 L603.1,846.0 L603.7,843.2 L604.3,840.1 L604.9,834.3 L605.5,827.2 L606.1,821.0 L606.7,810.4 L607.3,803.4 L607.9,796.7 L608.5,792.2 L609.1,797.5 L609.7,803.9 L610.3,812.9 L610.9,821.4 L611.5,833.2 L612.1,840.7 L612.7,842.7 L613.3,846.4 L613.9,848.7 L614.5,850.6 L615.1,854.5 L615.7,854.2 L616.3,853.4 L616.9,854.1 L617.5,860.4 L618.1,856.0 L618.7,856.3 L619.3,855.9 L619.9,855.8 L620.5,856.4 L621.1,857.9 L621.7,860.8 L622.3,858.0 L622.9,859.4 L623.5,857.6 L624.1,859.8 L624.7,859.4 L625.3,859.8 L625.9,858.3 L626.5,857.1 L627.1,859.2 L627.7,856.8 L628.3,857.8 L628.9,862.3 L629.5,862.1 L630.1,860.3 L630.7,859.6 L631.3,862.5 L631.9,858.6 L632.5,862.1 L633.1,858.2 L633.7,860.2 L634.3,859.7 L634.9,862.6 L635.5,859.4 L636.1,862.5 L636.7,860.8 L637.3,860.2 L637.9,858.8 L638.5,860.6 L639.1,861.7 L639.7,858.8 L640.3,859.5 L640.9,859.9 L641.5,858.6 L642.1,859.8 L642.7,858.6 L643.3,862.2 L643.9,859.8 L644.5,857.8 L645.1,862.3 L645.7,861.2 L646.3,860.8 L646.9,859.6 L647.5,859.2 L648.1,862.7 L648.7,859.4 L649.3,860.8 L649.9,860.9 L650.5,860.9 L651.1,861.7 L651.7,860.0 L652.3,859.2 L652.9,859.8 L653.5,861.4 L654.1,862.3 L654.7,860.1 L655.3,860.5 L655.9,860.8 L656.5,861.7 L657.1,860.3 L657.7,861.3 L658.3,859.6 L658.9,857.6 L659.5,862.4 L660.1,859.0 L660.7,861.0 L661.3,858.7 L661.9,856.8 L662.5,862.9 L663.1,863.0 L663.7,863.8 L664.3,858.2 L664.9,858.4 L665.5,860.9 L666.1,860.8 L666.7,860.8 L667.3,860.6 L667.9,864.2 L668.5,860.6 L669.1,861.6 L669.7,858.1 L670.3,860.1 L670.9,860.9 L671.5,857.4 L672.1,860.4 L672.7,859.6 L673.3,857.7 L673.9,859.2 L674.5,859.8 L675.1,857.5 L675.7,860.1 L676.3,859.6 L676.9,855.7 L677.5,859.5 L678.1,853.1 L678.7,854.1 L679.3,854.3 L679.9,855.1 L680.5,853.3 L681.1,851.6 L681.7,851.9 L682.3,849.6 L682.9,848.9 L683.5,849.6 L684.1,845.9 L684.7,841.8 L685.3,840.2 L685.9,837.5 L686.5,831.1 L687.1,826.4 L687.7,819.2 L688.3,819.8 L688.9,811.5 L689.5,813.0 L690.1,817.2 L690.7,823.5 L691.3,832.8 L691.9,837.7 L692.5,841.1 L693.1,849.9 L693.7,850.3 L694.3,856.9 L694.9,859.5 L695.5,856.6 L696.1,861.1 L696.7,860.7 L697.3,857.4 L697.9,856.7 L698.5,856.1 L699.1,859.5 L699.7,856.2 L700.3,855.3 L700.9,847.4 L701.5,846.0 L702.1,843.5 L702.7,840.4 L703.3,837.2 L703.9,829.2 L704.5,827.5 L705.1,826.4 L705.7,827.5 L706.3,833.0 L706.9,835.0 L707.5,838.1 L708.1,841.5 L708.7,844.7 L709.3,850.5 L709.9,855.0 L710.5,858.4 L711.1,859.5 L711.7,856.3 L712.3,857.6 L712.9,859.5 L713.5,859.9 L714.1,858.0 L714.7,860.1 L715.3,858.6 L715.9,862.4 L716.5,862.3 L717.1,861.4 L717.7,861.2 L718.3,860.3 L718.9,860.9 L719.5,858.2 L720.1,864.5 L720.7,860.4 L721.3,861.2 L721.9,861.0 L722.5,861.6 L723.1,861.4 L723.7,863.1 L724.3,862.1 L724.9,858.1 L725.5,858.9 L726.1,859.5 L726.7,860.8 L727.3,862.4 L727.9,858.2 L728.5,862.6 L729.1,861.4 L729.7,862.0 L730.3,863.3 L730.9,864.1 L731.5,861.7 L732.1,863.8 L732.7,861.2 L733.3,858.4 L733.9,862.7 L734.5,862.0 L735.1,860.6 L735.7,860.2 L736.3,859.1 L736.9,860.2 L737.5,861.0 L738.1,863.5 L738.7,860.6 L739.3,861.9 L739.9,862.0 L740.5,865.0 L741.1,861.6 L741.7,859.8 L742.3,861.4 L742.9,860.6 L743.5,862.0 L744.1,864.4 L744.7,859.4 L745.3,863.0 L745.9,859.2 L746.5,864.4 L747.1,862.8 L747.7,860.0 L748.3,863.1 L748.9,862.6 L749.5,860.2 L750.1,860.3 L750.7,857.9 L751.3,860.2 L751.9,861.4 L752.5,859.2 L753.1,863.5 L753.7,860.2 L754.3,862.8 L754.9,860.2 L755.5,861.4 L756.1,863.7 L756.7,858.5 L757.3,860.0 L757.9,861.9 L758.5,863.0 L759.1,862.2 L759.7,862.4 L760.3,861.2 L760.9,861.9 L761.5,861.2 L762.1,862.6 L762.7,858.4 L763.3,859.0 L763.9,858.6 L764.5,862.2 L765.1,861.3 L765.7,861.1 L766.3,862.8 L766.9,862.6 L767.5,863.1 L768.1,862.1 L768.7,862.4 L769.3,864.0 L769.9,860.1 L770.5,861.6 L771.1,860.0 L771.7,860.6 L772.3,858.7 L772.9,859.7 L773.5,862.6 L774.1,860.8 L774.7,861.0 L775.3,861.5 L775.9,862.9 L776.5,861.6 L777.1,861.9 L777.7,861.4 L778.3,860.6 L778.9,865.9 L779.5,863.0 L780.1,863.2 L780.7,860.2 L781.3,860.3 L781.9,861.2 L782.5,859.9 L783.1,861.1 L783.7,859.9 L784.3,862.6 L784.9,862.8 L785.5,858.4 L786.1,860.9 L786.7,861.2 L787.3,860.6 L787.9,860.3 L788.5,862.4 L789.1,862.0"/>
<path stroke="#6400aa" d="M42.7,986.4 L43.3,986.8 L43.9,987.2 L44.5,987.6 L45.1,987.9 L45.7,986.9 L46.3,987.3 L46.9,987.4 L47.5,987.0 L48.1,987.0 L48.7,988.1 L49.3,986.5 L49.9,987.9 L50.5,986.0 L51.1,986.6 L51.7,987.1 L52.3,986.2 L52.9,986.9 L53.5,986.6 L54.1,986.9 L54.7,986.4 L55.3,986.4 L55.9,987.3 L56.5,987.2 L57.1,986.7 L57.7,987.0 L58.3,988.0 L58.9,985.9 L59.5,988.0 L60.1,987.9 L60.7,987.5 L61.3,986.6 L61.9,986.0 L62.5,987.0 L63.1,987.0 L63.7,986.7 L64.3,987.0 L64.9,986.8 L65.5,987.4 L66.1,986.6 L66.7,986.6 L67.3,987.9 L67.9,986.7 L68.5,986.5 L69.1,986.1 L69.7,986.5 L70.3,986.3 L70.9,985.3 L71.5,983.4 L72.1,982.4 L72.7,979.9 L73.3,975.7 L73.9,972.4 L74.5,967.4 L75.1,961.3 L75.7,954.9 L76.3,948.4 L76.9,943.8 L77.5,939.7 L78.1,936.3 L78.7,935.2 L79.3,937.2 L79.9,939.1 L80.5,942.1 L81.1,946.2 L81.7,950.6 L82.3,955.1 L82.9,959.4 L83.5,963.0 L84.1,965.0 L84.7,968.7 L85.3,969.7 L85.9,972.7 L86.5,972.0 L87.1,975.6 L87.7,975.0 L88.3,977.1 L88.9,977.6 L89.5,978.3 L90.1,979.2 L90.7,978.3 L91.3,979.9 L91.9,981.1 L92.5,980.6 L93.1,980.9 L93.7,982.2 L94.3,981.7 L94.9,982.2 L95.5,982.1 L96.1,982.3 L96.7,982.9 L97.3,983.2 L97.9,982.6 L98.5,982.9 L99.1,983.5 L99.7,982.6 L100.3,981.7 L100.9,980.1 L101.5,976.6 L102.1,974.8 L102.7,970.1 L103.3,964.1 L103.9,958.3 L104.5,951.2 L105.1,943.5 L105.7,937.1 L106.3,931.3 L106.9,927.0 L107.5,925.5 L108.1,926.6 L108.7,929.0 L109.3,931.9 L109.9,935.5 L110.5,941.1 L111.1,945.3 L111.7,950.3 L112.3,954.8 L112.9,959.6 L113.5,961.3 L114.1,964.2 L114.7,967.0 L115.3,967.8 L115.9,969.6 L116.5,970.8 L117.1,972.5 L117.7,973.2 L118.3,974.5 L118.9,974.6 L119.5,975.9 L120.1,977.3 L120.7,977.2 L121.3,977.9 L121.9,978.6 L122.5,979.6 L123.1,978.9 L123.7,980.2 L124.3,979.5 L124.9,980.9 L125.5,980.9 L126.1,981.3 L126.7,981.5 L127.3,980.5 L127.9,982.3 L128.5,981.3 L129.1,982.2 L129.7,983.0 L130.3,982.3 L130.9,982.6 L131.5,982.7 L132.1,984.0 L132.7,983.3 L133.3,983.8 L133.9,983.8 L134.5,984.0 L135.1,984.0 L135.7,983.3 L136.3,984.0 L136.9,985.2 L137.5,983.8 L138.1,984.4 L138.7,984.5 L139.3,985.5 L139.9,984.5 L140.5,985.0 L141.1,984.4 L141.7,984.7 L142.3,984.5 L142.9,985.2 L143.5,986.0 L144.1,984.6 L144.7,985.0 L145.3,985.4 L145.9,985.5 L146.5,985.7 L147.1,986.2 L147.7,986.0 L148.3,985.5 L148.9,984.7 L149.5,985.3 L150.1,984.7 L150.7,986.1 L151.3,985.0 L151.9,985.8 L152.5,984.9 L153.1,985.1 L153.7,985.7 L154.3,985.6 L154.9,985.1 L155.5,986.2 L156.1,986.9 L156.7,985.4 L157.3,984.7 L157.9,986.8 L158.5,985.7 L159.1,986.5 L159.7,986.0 L160.3,986.4 L160.9,985.5 L161.5,986.2 L162.1,986.0 L162.7,986.5 L163.3,985.6 L163.9,986.2 L164.5,986.1 L165.1,986.0 L165.7,986.7 L166.3,986.0 L166.9,986.7 L167.5,986.0 L168.1,986.0 L168.7,986.1 L169.3,985.9 L169.9,986.0 L170.5,985.1 L171.1,985.0 L171.7,984.5 L172.3,983.4 L172.9,982.0 L173.5,979.4 L174.1,976.3 L174.7,972.8 L175.3,965.6 L175.9,959.9 L176.5,952.2 L177.1,943.1 L177.7,935.5 L178.3,926.1 L178.9,918.3 L179.5,913.0 L180.1,909.6 L180.7,909.4 L181.3,911.6 L181.9,916.2 L182.5,922.6 L183.1,930.8 L183.7,937.9 L184.3,945.3 L184.9,952.3 L185.5,957.8 L186.1,961.9 L186.7,964.9 L187.3,967.7 L187.9,970.8 L188.5,972.4 L189.1,973.8 L189.7,974.5 L190.3,975.8 L190.9,976.4 L191.5,976.7 L192.1,977.9 L192.7,978.5 L193.3,979.0 L193.9,980.1 L194.5,980.2 L195.1,980.7 L195.7,981.2 L196.3,980.5 L196.9,981.2 L197.5,983.1 L198.1,982.3 L198.7,982.1 L199.3,982.0 L199.9,982.3 L200.5,981.6 L201.1,980.7 L201.7,979.3 L202.3,976.4 L202.9,973.3 L203.5,968.7 L204.1,962.1 L204.7,953.7 L205.3,944.3 L205.9,932.8 L206.5,920.2 L207.1,908.0 L207.7,898.7 L208.3,887.5 L208.9,883.3 L209.5,880.6 L210.1,883.5 L210.7,887.6 L211.3,895.7 L211.9,905.3 L212.5,915.7 L213.1,926.0 L213.7,935.0 L214.3,944.1 L214.9,950.8 L215.5,956.5 L216.1,961.6 L216.7,964.2 L217.3,967.0 L217.9,969.4 L218.5,971.6 L219.1,972.6 L219.7,973.7 L220.3,974.7 L220.9,975.6 L221.5,977.1 L222.1,976.7 L222.7,977.5 L223.3,978.1 L223.9,978.8 L224.5,978.8 L225.1,979.6 L225.7,979.8 L226.3,980.5 L226.9,981.0 L227.5,981.0 L228.1,982.0 L228.7,982.0 L229.3,982.0 L229.9,982.7 L230.5,983.8 L231.1,983.1 L231.7,983.3 L232.3,982.7 L232.9,984.2 L233.5,983.8 L234.1,982.8 L234.7,984.9 L235.3,984.0 L235.9,984.3 L236.5,984.9 L237.1,984.1 L237.7,984.7 L238.3,985.7 L238.9,984.7 L239.5,985.2 L240.1,984.0 L240.7,984.6 L241.3,985.3 L241.9,984.7 L242.5,983.9 L243.1,985.5 L243.7,985.4 L244.3,985.1 L244.9,985.0 L245.5,985.0 L246.1,985.9 L246.7,985.1 L247.3,985.8 L247.9,985.7 L248.5,984.9 L249.1,985.7 L249.7,985.1 L250.3,985.6 L250.9,985.4 L251.5,985.4 L252.1,985.2 L252.7,985.2 L253.3,985.9 L253.9,984.8 L254.5,985.3 L255.1,985.2 L255.7,985.2 L256.3,985.9 L256.9,985.7 L257.5,985.7 L258.1,985.6 L258.7,984.9 L259.3,984.8 L259.9,984.1 L260.5,984.9 L261.1,985.0 L261.7,985.8 L262.3,986.2 L262.9,985.8 L263.5,986.0 L264.1,986.4 L264.7,986.0 L265.3,985.7 L265.9,985.8 L266.5,985.4 L267.1,985.6 L267.7,985.7 L268.3,985.2 L268.9,985.9 L269.5,985.8 L270.1,985.1 L270.7,985.3 L271.3,986.5 L271.9,985.6 L272.5,984.7 L273.1,985.0 L273.7,984.2 L274.3,984.8 L274.9,982.6 L275.5,982.1 L276.1,978.1 L276.7,975.4 L277.3,969.2 L277.9,964.0 L278.5,956.1 L279.1,947.4 L279.7,938.2 L280.3,929.6 L280.9,919.7 L281.5,913.1 L282.1,906.7 L282.7,906.0 L283.3,906.7 L283.9,910.5 L284.5,915.2 L285.1,922.4 L285.7,930.7 L286.3,938.4 L286.9,946.6 L287.5,953.0 L288.1,957.3 L288.7,962.6 L289.3,965.8 L289.9,969.1 L290.5,970.6 L291.1,971.9 L291.7,973.5 L292.3,975.4 L292.9,975.2 L293.5,976.4 L294.1,978.5 L294.7,978.4 L295.3,978.7 L295.9,979.3 L296.5,979.4 L297.1,979.4 L297.7,980.4 L298.3,980.7 L298.9,980.3 L299.5,980.4 L300.1,981.5 L300.7,980.6 L301.3,982.1 L301.9,980.0 L302.5,979.7 L303.1,978.9 L303.7,976.4 L304.3,972.6 L304.9,967.0 L305.5,960.5 L306.1,952.2 L306.7,942.1 L307.3,929.8 L307.9,917.5 L308.5,904.0 L309.1,892.1 L309.7,881.9 L310.3,874.6 L310.9,872.2 L311.5,874.3 L312.1,877.8 L312.7,886.4 L313.3,896.3 L313.9,908.0 L314.5,918.9 L315.1,929.4 L315.7,937.8 L316.3,947.0 L316.9,952.3 L317.5,957.8 L318.1,961.4 L318.7,965.1 L319.3,968.1 L319.9,968.8 L320.5,971.0 L321.1,972.0 L321.7,973.0 L322.3,975.3 L322.9,975.6 L323.5,976.2 L324.1,976.6 L324.7,977.2 L325.3,977.7 L325.9,978.8 L326.5,978.5 L327.1,979.6 L327.7,980.0 L328.3,980.6 L328.9,981.3 L329.5,981.0 L330.1,981.2 L330.7,981.4 L331.3,980.7 L331.9,981.9 L332.5,982.1 L333.1,983.1 L333.7,982.8 L334.3,982.8 L334.9,982.7 L335.5,983.2 L336.1,983.1 L336.7,983.9 L337.3,983.0 L337.9,983.1 L338.5,984.3 L339.1,984.6 L339.7,984.3 L340.3,984.0 L340.9,984.6 L341.5,984.1 L342.1,983.9 L342.7,983.9 L343.3,983.9 L343.9,985.2 L344.5,985.5 L345.1,984.4 L345.7,985.1 L346.3,985.1 L346.9,985.3 L347.5,985.2 L348.1,984.6 L348.7,985.6 L349.3,985.6 L349.9,984.5 L350.5,984.7 L351.1,985.9 L351.7,986.0 L352.3,985.0 L352.9,984.8 L353.5,984.2 L354.1,984.9 L354.7,985.0 L355.3,985.5 L355.9,985.3 L356.5,985.6 L357.1,984.8 L357.7,985.2 L358.3,984.9 L358.9,985.3 L359.5,985.9 L360.1,985.5 L360.7,985.0 L361.3,985.3 L361.9,986.4 L362.5,985.0 L363.1,985.8 L363.7,984.9 L364.3,985.7 L364.9,986.0 L365.5,985.2 L366.1,986.2 L366.7,985.0 L367.3,985.8 L367.9,985.3 L368.5,986.3 L369.1,985.6 L369.7,985.8 L370.3,984.8 L370.9,985.9 L371.5,985.6 L372.1,985.9 L372.7,985.4 L373.3,985.2 L373.9,984.5 L374.5,984.3 L375.1,984.8 L375.7,982.0 L376.3,981.1 L376.9,977.9 L377.5,974.7 L378.1,968.5 L378.7,961.4 L379.3,951.8 L379.9,940.0 L380.5,927.0 L381.1,912.1 L381.7,898.0 L382.3,885.1 L382.9,874.7 L383.5,868.6 L384.1,867.2 L384.7,869.6 L385.3,876.5 L385.9,885.6 L386.5,897.6 L387.1,911.0 L387.7,923.1 L388.3,935.0 L388.9,945.2 L389.5,954.0 L390.1,961.1 L390.7,966.5 L391.3,971.5 L391.9,974.4 L392.5,976.1 L393.1,977.7 L393.7,978.6 L394.3,980.1 L394.9,979.5 L395.5,981.4 L396.1,982.1 L396.7,981.8 L397.3,982.5 L397.9,981.7 L398.5,982.2 L399.1,983.0 L399.7,982.2 L400.3,981.8 L400.9,982.5 L401.5,982.2 L402.1,982.0 L402.7,981.3 L403.3,980.6 L403.9,978.3 L404.5,976.1 L405.1,971.8 L405.7,966.1 L406.3,959.3 L406.9,950.8 L407.5,939.8 L408.1,927.9 L408.7,915.4 L409.3,901.8 L409.9,889.6 L410.5,880.0 L411.1,872.8 L411.7,870.7 L412.3,871.6 L412.9,877.0 L413.5,886.3 L414.1,898.2 L414.7,910.9 L415.3,924.7 L415.9,937.1 L416.5,947.8 L417.1,957.1 L417.7,964.8 L418.3,971.0 L418.9,975.1 L419.5,978.6 L420.1,980.3 L420.7,982.1 L421.3,983.3 L421.9,983.1 L422.5,983.8 L423.1,984.0 L423.7,984.5 L424.3,983.5 L424.9,984.1 L425.5,984.9 L426.1,984.2 L426.7,984.6 L427.3,985.0 L427.9,985.1 L428.5,984.3 L429.1,985.0 L429.7,984.7 L430.3,985.2 L430.9,984.7 L431.5,984.7 L432.1,984.8 L432.7,984.8 L433.3,984.5 L433.9,984.7 L434.5,985.3 L435.1,984.2 L435.7,985.3 L436.3,985.4 L436.9,985.1 L437.5,984.7 L438.1,984.8 L438.7,985.6 L439.3,985.3 L439.9,984.6 L440.5,984.9 L441.1,984.9 L441.7,985.8 L442.3,985.0 L442.9,984.9 L443.5,985.5 L444.1,985.9 L444.7,984.8 L445.3,984.5 L445.9,985.5 L446.5,985.0 L447.1,984.2 L447.7,984.0 L448.3,984.7 L448.9,985.8 L449.5,984.6 L450.1,984.2 L450.7,983.4 L451.3,984.1 L451.9,984.1 L452.5,984.6 L453.1,985.1 L453.7,984.7 L454.3,984.7 L454.9,984.5 L455.5,983.8 L456.1,984.0 L456.7,985.0 L457.3,984.1 L457.9,983.3 L458.5,983.3 L459.1,982.9 L459.7,984.1 L460.3,983.2 L460.9,983.5 L461.5,983.7 L462.1,983.4 L462.7,983.8 L463.3,983.5 L463.9,982.5 L464.5,982.5 L465.1,982.4 L465.7,981.3 L466.3,981.9 L466.9,981.2 L467.5,981.7 L468.1,981.4 L468.7,980.7 L469.3,980.4 L469.9,979.9 L470.5,979.3 L471.1,978.0 L471.7,978.7 L472.3,978.3 L472.9,976.8 L473.5,975.6 L474.1,974.5 L474.7,974.9 L475.3,972.9 L475.9,972.5 L476.5,969.9 L477.1,968.0 L477.7,964.8 L478.3,961.4 L478.9,955.2 L479.5,949.2 L480.1,942.0 L480.7,934.0 L481.3,923.0 L481.9,912.8 L482.5,902.9 L483.1,892.4 L483.7,884.5 L484.3,878.6 L484.9,875.6 L485.5,876.2 L486.1,880.5 L486.7,888.0 L487.3,897.0 L487.9,906.9 L488.5,918.6 L489.1,929.3 L489.7,940.8 L490.3,949.4 L490.9,957.3 L491.5,962.8 L492.1,968.8 L492.7,972.8 L493.3,975.2 L493.9,976.5 L494.5,977.1 L495.1,979.8 L495.7,978.6 L496.3,980.6 L496.9,978.9 L497.5,978.6 L498.1,978.5 L498.7,979.8 L499.3,978.7 L499.9,976.8 L500.5,976.8 L501.1,975.8 L501.7,975.5 L502.3,974.3 L502.9,973.1 L503.5,972.0 L504.1,969.2 L504.7,965.9 L505.3,964.1 L505.9,959.5 L506.5,953.6 L507.1,946.2 L507.7,936.8 L508.3,926.2 L508.9,914.9 L509.5,903.3 L510.1,893.0 L510.7,883.1 L511.3,876.9 L511.9,873.2 L512.5,873.6 L513.1,878.6 L513.7,886.2 L514.3,897.7 L514.9,909.6 L515.5,921.7 L516.1,935.3 L516.7,947.8 L517.3,957.5 L517.9,965.1 L518.5,970.9 L519.1,976.2 L519.7,979.1 L520.3,981.9 L520.9,983.4 L521.5,984.3 L522.1,983.8 L522.7,984.7 L523.3,986.1 L523.9,985.6 L524.5,984.8 L525.1,985.6 L525.7,984.5 L526.3,985.6 L526.9,985.6 L527.5,985.9 L528.1,985.8 L528.7,985.8 L529.3,985.4 L529.9,985.2 L530.5,985.9 L531.1,985.5 L531.7,986.4 L532.3,985.7 L532.9,985.4 L533.5,985.8 L534.1,986.1 L534.7,985.4 L535.3,985.2 L535.9,985.1 L536.5,985.4 L537.1,984.8 L537.7,985.8 L538.3,985.4 L538.9,986.4 L539.5,985.6 L540.1,985.5 L540.7,984.5 L541.3,984.9 L541.9,984.9 L542.5,986.0 L543.1,985.6 L543.7,985.4 L544.3,986.1 L544.9,985.6 L545.5,985.0 L546.1,985.4 L546.7,985.8 L547.3,984.3 L547.9,985.0 L548.5,985.2 L549.1,985.8 L549.7,984.7 L550.3,985.2 L550.9,985.3 L551.5,985.3 L552.1,984.3 L552.7,985.8 L553.3,985.4 L553.9,984.4 L554.5,984.6 L555.1,984.4 L555.7,984.8 L556.3,984.3 L556.9,984.8 L557.5,984.7 L558.1,984.4 L558.7,984.5 L559.3,983.9 L559.9,984.1 L560.5,984.3 L561.1,984.5 L561.7,982.9 L562.3,984.1 L562.9,983.4 L563.5,984.1 L564.1,983.8 L564.7,982.9 L565.3,982.1 L565.9,981.9 L566.5,982.7 L567.1,982.8 L567.7,981.7 L568.3,981.2 L568.9,982.0 L569.5,981.6 L570.1,980.2 L570.7,981.1 L571.3,979.9 L571.9,980.2 L572.5,979.2 L573.1,979.6 L573.7,978.2 L574.3,978.4 L574.9,977.8 L575.5,976.7 L576.1,975.0 L576.7,974.5 L577.3,973.5 L577.9,971.8 L578.5,970.9 L579.1,968.1 L579.7,966.9 L580.3,962.2 L580.9,959.4 L581.5,955.1 L582.1,951.3 L582.7,944.3 L583.3,938.0 L583.9,931.1 L584.5,925.6 L585.1,918.4 L585.7,914.5 L586.3,911.0 L586.9,910.1 L587.5,909.1 L588.1,913.1 L588.7,916.9 L589.3,921.9 L589.9,927.6 L590.5,935.6 L591.1,942.8 L591.7,949.4 L592.3,955.3 L592.9,960.5 L593.5,965.4 L594.1,969.7 L594.7,972.1 L595.3,974.3 L595.9,976.3 L596.5,976.7 L597.1,977.1 L597.7,979.3 L598.3,977.9 L598.9,977.7 L599.5,977.0 L600.1,976.9 L600.7,975.9 L601.3,975.5 L601.9,975.7 L602.5,974.6 L603.1,973.6 L603.7,971.6 L604.3,970.4 L604.9,968.7 L605.5,965.4 L606.1,961.7 L606.7,958.4 L607.3,953.8 L607.9,948.0 L608.5,941.0 L609.1,933.5 L609.7,925.8 L610.3,918.0 L610.9,911.7 L611.5,907.5 L612.1,902.9 L612.7,901.1 L613.3,904.5 L613.9,908.2 L614.5,912.2 L615.1,918.6 L615.7,927.0 L616.3,934.1 L616.9,942.2 L617.5,950.3 L618.1,956.5 L618.7,964.9 L619.3,968.7 L619.9,974.1 L620.5,977.3 L621.1,979.7 L621.7,981.7 L622.3,983.0 L622.9,982.9 L623.5,984.5 L624.1,985.4 L624.7,985.8 L625.3,985.8 L625.9,986.7 L626.5,984.9 L627.1,986.4 L627.7,985.1 L628.3,986.7 L628.9,986.5 L629.5,986.4 L630.1,985.8 L630.7,985.7 L631.3,986.7 L631.9,986.9 L632.5,986.2 L633.1,986.0 L633.7,985.9 L634.3,987.1 L634.9,985.4 L635.5,986.1 L636.1,985.9 L636.7,985.8 L637.3,986.5 L637.9,985.6 L638.5,985.2 L639.1,985.8 L639.7,986.4 L640.3,986.3 L640.9,985.9 L641.5,985.9 L642.1,985.4 L642.7,986.4 L643.3,986.1 L643.9,985.7 L644.5,985.9 L645.1,986.0 L645.7,986.3 L646.3,986.1 L646.9,985.8 L647.5,985.2 L648.1,985.8 L648.7,985.0 L649.3,985.4 L649.9,985.6 L650.5,985.5 L651.1,985.6 L651.7,985.8 L652.3,985.9 L652.9,984.9 L653.5,985.9 L654.1,985.0 L654.7,985.8 L655.3,985.3 L655.9,985.0 L656.5,984.7 L657.1,985.1 L657.7,985.6 L658.3,985.8 L658.9,985.5 L659.5,984.7 L660.1,985.5 L660.7,984.5 L661.3,984.9 L661.9,985.6 L662.5,985.0 L663.1,984.4 L663.7,985.0 L664.3,984.3 L664.9,984.1 L665.5,985.4 L666.1,985.2 L666.7,984.5 L667.3,984.7 L667.9,983.5 L668.5,983.6 L669.1,983.8 L669.7,983.1 L670.3,982.8 L670.9,983.8 L671.5,983.1 L672.1,982.5 L672.7,981.3 L673.3,981.9 L673.9,980.8 L674.5,981.8 L675.1,981.3 L675.7,980.0 L676.3,980.0 L676.9,978.5 L677.5,978.2 L678.1,978.4 L678.7,977.6 L679.3,975.5 L679.9,974.5 L680.5,972.9 L681.1,971.8 L681.7,968.8 L682.3,966.8 L682.9,962.6 L683.5,958.7 L684.1,955.2 L684.7,950.7 L685.3,944.2 L685.9,941.6 L686.5,938.1 L687.1,936.1 L687.7,933.8 L688.3,934.0 L688.9,935.1 L689.5,937.1 L690.1,940.8 L690.7,943.9 L691.3,950.0 L691.9,954.8 L692.5,958.5 L693.1,963.6 L693.7,966.6 L694.3,970.9 L694.9,972.9 L695.5,974.0 L696.1,976.6 L696.7,977.6 L697.3,977.6 L697.9,978.7 L698.5,979.4 L699.1,979.2 L699.7,978.1 L700.3,977.9 L700.9,977.5 L701.5,977.7 L702.1,977.5 L702.7,976.3 L703.3,976.5 L703.9,975.5 L704.5,974.1 L705.1,972.6 L705.7,970.9 L706.3,970.7 L706.9,966.7 L707.5,965.4 L708.1,962.4 L708.7,959.0 L709.3,956.4 L709.9,952.4 L710.5,950.3 L711.1,947.7 L711.7,944.7 L712.3,943.5 L712.9,941.6 L713.5,943.8 L714.1,944.1 L714.7,946.7 L715.3,949.9 L715.9,954.2 L716.5,958.7 L717.1,962.6 L717.7,967.5 L718.3,971.1 L718.9,974.2 L719.5,977.4 L720.1,979.7 L720.7,981.1 L721.3,984.1 L721.9,984.4 L722.5,985.7 L723.1,985.3 L723.7,985.5 L724.3,986.1 L724.9,987.2 L725.5,986.8 L726.1,987.0 L726.7,986.6 L727.3,986.1 L727.9,987.0 L728.5,985.9 L729.1,986.5 L729.7,986.1 L730.3,986.9 L730.9,987.5 L731.5,985.4 L732.1,986.7 L732.7,987.2 L733.3,987.5 L733.9,987.9 L734.5,986.1 L735.1,986.7 L735.7,986.8 L736.3,987.2 L736.9,986.6 L737.5,986.3 L738.1,987.3 L738.7,987.1 L739.3,987.7 L739.9,987.6 L740.5,987.2 L741.1,986.8 L741.7,985.8 L742.3,986.6 L742.9,986.7 L743.5,986.8 L744.1,986.4 L744.7,987.0 L745.3,987.4 L745.9,987.2 L746.5,986.9 L747.1,986.6 L747.7,986.6 L748.3,986.7 L748.9,986.9 L749.5,986.5 L750.1,986.7 L750.7,986.1 L751.3,987.1 L751.9,986.7 L752.5,987.0 L753.1,987.1 L753.7,986.3 L754.3,986.7 L754.9,987.0 L755.5,987.0 L756.1,987.2 L756.7,986.5 L757.3,986.7 L757.9,986.6 L758.5,986.8 L759.1,986.4 L759.7,986.1 L760.3,987.2 L760.9,987.2 L761.5,986.9 L762.1,987.2 L762.7,987.0 L763.3,986.4 L763.9,987.2 L764.5,987.4 L765.1,986.9 L765.7,986.5 L766.3,986.9 L766.9,987.4 L767.5,986.7 L768.1,987.0 L768.7,987.1 L769.3,986.8 L769.9,986.6 L770.5,987.2 L771.1,986.8 L771.7,986.7 L772.3,987.4 L772.9,986.9 L773.5,987.1 L774.1,987.0 L774.7,986.5 L775.3,986.4 L775.9,986.8 L776.5,986.3 L777.1,987.4 L777.7,986.5 L778.3,987.2 L778.9,987.2 L779.5,986.2 L780.1,986.4 L780.7,986.2 L781.3,986.1 L781.9,988.0 L782.5,986.4 L783.1,987.4 L783.7,986.4 L784.3,985.7 L784.9,986.9 L785.5,987.9 L786.1,986.7 L786.7,986.9 L787.3,986.1 L787.9,985.8 L788.5,986.9 L789.1,987.5"/>
</g>
<path d="M70.10,473.20 v6.60 M70.10,995.33 v-6.90 M97.78,473.20 v3.80 M97.78,995.33 v-4.10 M125.46,473.20 v3.80 M125.46,995.33 v-4.10 M153.14,473.20 v3.80 M153.14,995.33 v-4.10 M180.82,473.20 v3.80 M180.82,995.33 v-4.10 M208.50,473.20 v6.60 M208.50,995.33 v-6.90 M236.18,473.20 v3.80 M236.18,995.33 v-4.10 M263.86,473.20 v3.80 M263.86,995.33 v-4.10 M291.54,473.20 v3.80 M291.54,995.33 v-4.10 M319.22,473.20 v3.80 M319.22,995.33 v-4.10 M346.90,473.20 v6.60 M346.90,995.33 v-6.90 M374.58,473.20 v3.80 M374.58,995.33 v-4.10 M402.26,473.20 v3.80 M402.26,995.33 v-4.10 M429.94,473.20 v3.80 M429.94,995.33 v-4.10 M457.62,473.20 v3.80 M457.62,995.33 v-4.10 M485.30,473.20 v6.60 M485.30,995.33 v-6.90 M512.98,473.20 v3.80 M512.98,995.33 v-4.10 M540.66,473.20 v3.80 M540.66,995.33 v-4.10 M568.34,473.20 v3.80 M568.34,995.33 v-4.10 M596.02,473.20 v3.80 M596.02,995.33 v-4.10 M623.70,473.20 v6.60 M623.70,995.33 v-6.90 M651.38,473.20 v3.80 M651.38,995.33 v-4.10 M679.06,473.20 v3.80 M679.06,995.33 v-4.10 M706.74,473.20 v3.80 M706.74,995.33 v-4.10 M734.42,473.20 v3.80 M734.42,995.33 v-4.10 M762.10,473.20 v6.60 M762.10,995.33 v-6.90" stroke="#000" stroke-width="1.55" fill="none"/>
<path d="M42.70,472.48 V996.00" stroke="#000" stroke-width="1.45" fill="none"/>
<path d="M789.35,472.48 V996.00" stroke="#000" stroke-width="1.35" fill="none"/>
<path d="M41.98,473.20 H790.02" stroke="#000" stroke-width="1.45" fill="none"/>
<path d="M41.98,995.33 H790.02" stroke="#000" stroke-width="1.35" fill="none"/>
<g font-family="Liberation Sans, sans-serif" font-weight="bold" font-size="9" fill="#000">
<text transform="translate(817.3,597.4) rotate(-90)">51</text>
<text transform="translate(819.3,759.3) rotate(-90)">51</text>
<text transform="translate(819.3,968.4) rotate(-90)">51</text>
</g>
<rect x="813" y="525.0" width="1" height="1.7" fill="#6e6e6e"/>
<rect x="813" y="536.8" width="1" height="1.6" fill="#777"/>
<rect x="813" y="544.2" width="1" height="1.5" fill="#777"/>
<rect x="813" y="548.1" width="1" height="1.8" fill="#666"/>
<rect x="813" y="556.4" width="1" height="2.2" fill="#6a6a6a"/>
<rect x="813" y="560.2" width="1" height="1.6" fill="#7c7c7c"/>
<rect x="813" y="857.7" width="1" height="1.2" fill="#333"/>
<rect x="813" y="877.9" width="1" height="1.2" fill="#777"/>
</svg>
<div class="pa">(a)</div>
<div class="xt" style="left:40.0px">96.0</div>
<div class="xt" style="left:178.4px">96.5</div>
<div class="xt" style="left:316.8px">97.0</div>
<div class="xt" style="left:455.2px">97.5</div>
<div class="xt" style="left:593.6px">98.0</div>
<div class="xt" style="left:732.0px">98.5</div>
<div class="tl" style="right:42.7px;top:518.2px">150 K</div>
<div class="tl" style="right:39.3px;top:617.0px">95 K</div>
<div class="tl" style="right:39.3px;top:673.8px">94 K</div>
<div class="tl" style="right:39.3px;top:727.0px">93 K</div>
<div class="tl" style="right:39.3px;top:779.1px">92 K</div>
<div class="tl" style="right:39.3px;top:836.3px">91 K</div>
<div class="tl" style="right:40.5px;top:961.1px">4.6 K</div>
<div class="xl"><i>f</i> (MHz)</div>
<div class="yl">Intensity (arb.units)</div>
</body></html>
